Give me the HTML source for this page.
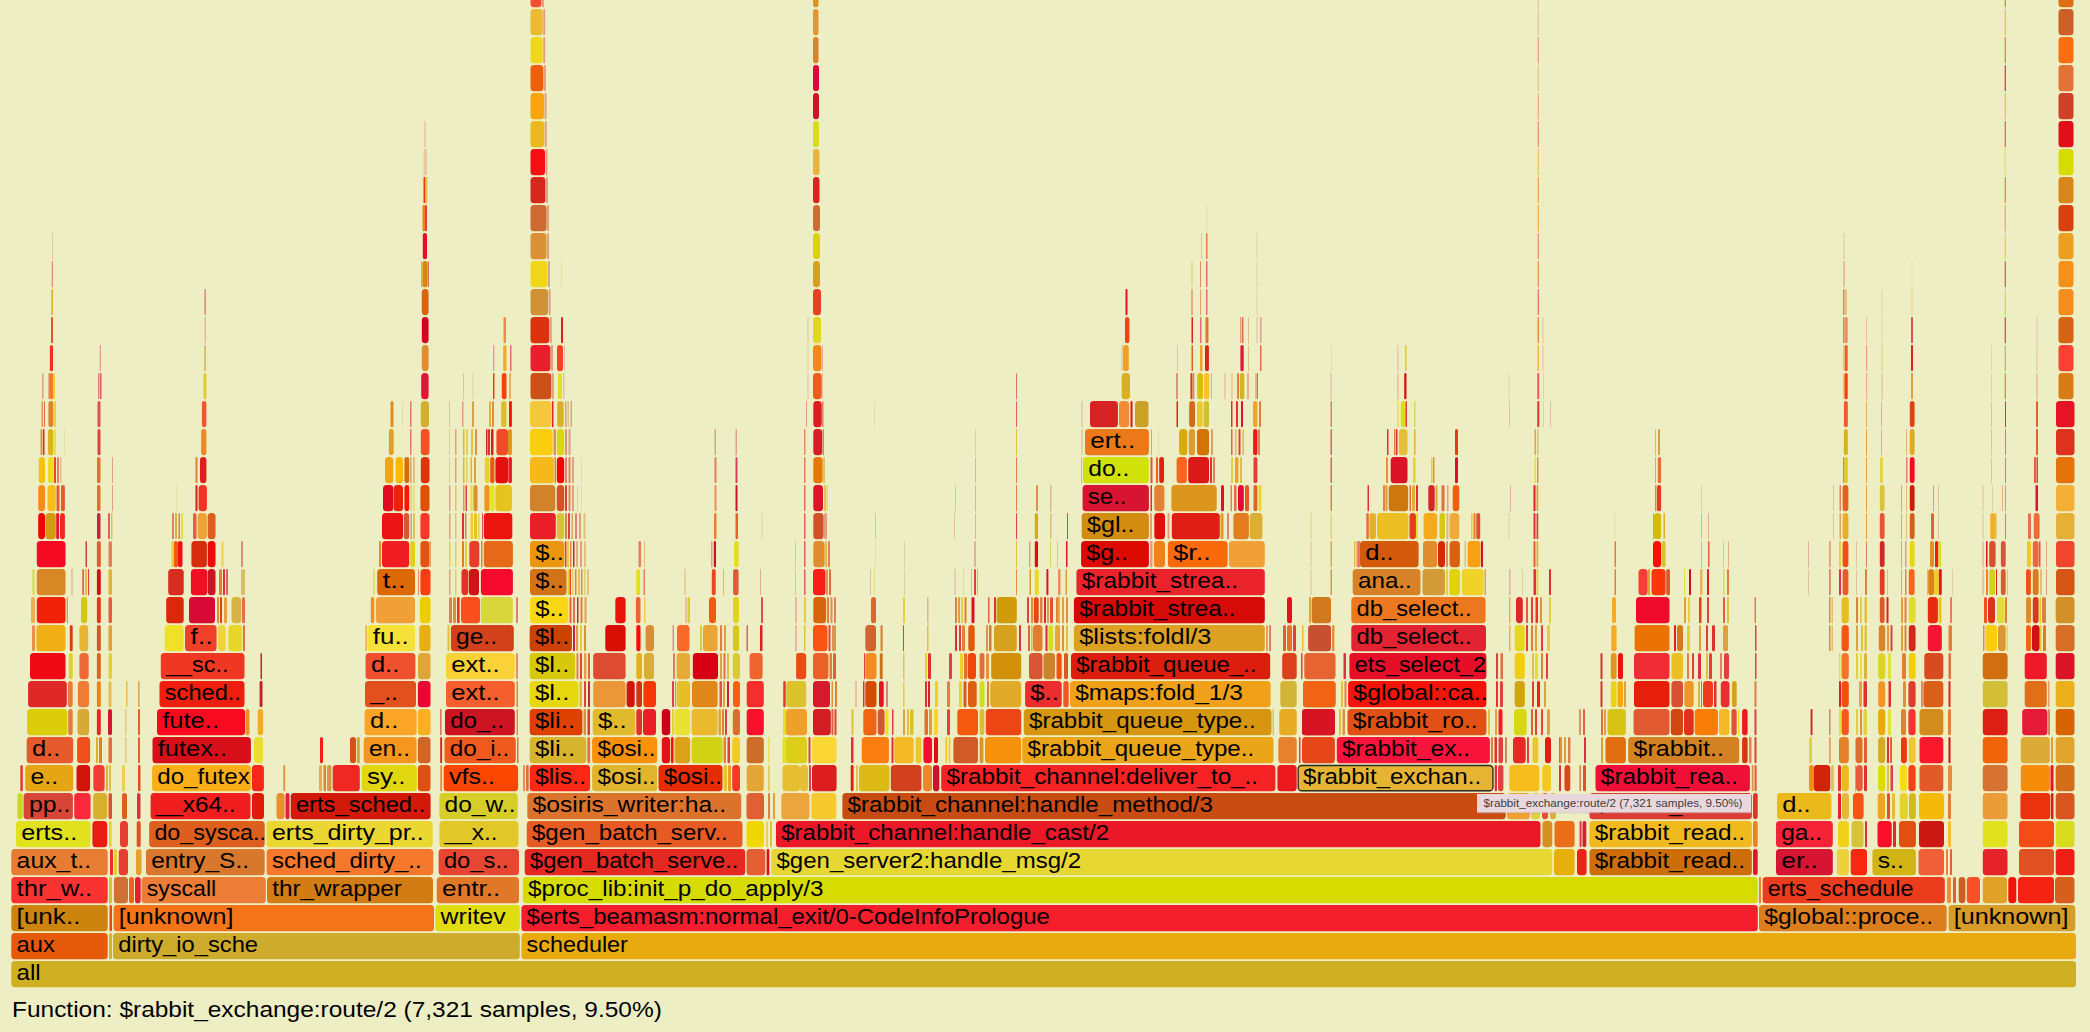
<!DOCTYPE html>
<html><head><meta charset="utf-8"><style>
html,body{margin:0;padding:0;background:#edeec3;width:2090px;height:1032px;overflow:hidden}
svg{display:block}
</style></head><body>
<svg width="2090" height="1032">
<rect width="2090" height="1032" fill="#edeec3"/>
<rect x="11.3" y="961" width="2064.7" height="26.25" rx="3.5" fill="#cfb022"/><rect x="11.3" y="933" width="96.4" height="26.25" rx="3.5" fill="#e55a0a"/><rect x="109.0" y="933" width="3.0" height="26.25" rx="1.5" fill="#d8b030"/><rect x="113.0" y="933" width="406.8" height="26.25" rx="3.5" fill="#ceaa2d"/><rect x="521.4" y="933" width="1554.6" height="26.25" rx="3.5" fill="#e8aa0f"/><rect x="11.3" y="905" width="96.4" height="26.25" rx="3.5" fill="#cd840f"/><rect x="109.5" y="905" width="2.5" height="26.25" rx="1.2" fill="#e04a20"/><rect x="113.6" y="905" width="320.4" height="26.25" rx="3.5" fill="#f57419"/><rect x="435.4" y="905" width="84.4" height="26.25" rx="3.5" fill="#e1dc0f"/><rect x="521.4" y="905" width="1236.4" height="26.25" rx="3.5" fill="#f51e2d"/><rect x="1759.0" y="905" width="187.7" height="26.25" rx="3.5" fill="#dc7d1e"/><rect x="1948.5" y="905" width="126.8" height="26.25" rx="3.5" fill="#d79b28"/><rect x="11.3" y="877" width="96.4" height="26.25" rx="3.5" fill="#fa3232"/><rect x="109.0" y="877" width="3.0" height="26.25" rx="1.5" fill="#d8c030"/><rect x="113.9" y="877" width="14.1" height="26.25" rx="3.5" fill="#cf7035"/><rect x="129.0" y="877" width="5.0" height="26.25" rx="2.5" fill="#f06020"/><rect x="135.0" y="877" width="5.7" height="26.25" rx="2.8" fill="#e02030"/><rect x="141.5" y="877" width="124.3" height="26.25" rx="3.5" fill="#eb7d37"/><rect x="267.0" y="877" width="166.0" height="26.25" rx="3.5" fill="#d27d14"/><rect x="436.8" y="877" width="82.2" height="26.25" rx="3.5" fill="#e17828"/><rect x="522.8" y="877" width="1235.0" height="26.25" rx="3.5" fill="#d7dc00"/><rect x="1759.0" y="877" width="2.0" height="26.25" rx="1.0" fill="#f08020"/><rect x="1762.6" y="877" width="182.2" height="26.25" rx="3.5" fill="#eb3c1e"/><rect x="1947.0" y="877" width="4.0" height="26.25" rx="2.0" fill="#e89040"/><rect x="1953.0" y="877" width="3.0" height="26.25" rx="1.5" fill="#e06030"/><rect x="1958.7" y="877" width="6.7" height="26.25" rx="3.4" fill="#cd5f1e"/><rect x="1966.8" y="877" width="13.2" height="26.25" rx="3.5" fill="#fa5028"/><rect x="1982.8" y="877" width="24.2" height="26.25" rx="3.5" fill="#e1a028"/><rect x="2008.3" y="877" width="8.0" height="26.25" rx="3.5" fill="#f0140a"/><rect x="2018.0" y="877" width="36.0" height="26.25" rx="3.5" fill="#f52314"/><rect x="2055.0" y="877" width="19.5" height="26.25" rx="3.5" fill="#d75f1e"/><rect x="11.3" y="849" width="96.4" height="26.25" rx="3.5" fill="#e67d32"/><rect x="110.0" y="849" width="3.0" height="26.25" rx="1.5" fill="#f03030"/><rect x="114.0" y="849" width="3.0" height="26.25" rx="1.5" fill="#e0d030"/><rect x="118.7" y="849" width="9.3" height="26.25" rx="3.5" fill="#e84030"/><rect x="136.0" y="849" width="5.5" height="26.25" rx="2.8" fill="#e8a030"/><rect x="146.0" y="849" width="118.7" height="26.25" rx="3.5" fill="#d7782d"/><rect x="266.6" y="849" width="166.7" height="26.25" rx="3.5" fill="#f5782d"/><rect x="438.6" y="849" width="80.4" height="26.25" rx="3.5" fill="#e64632"/><rect x="524.7" y="849" width="220.5" height="26.25" rx="3.5" fill="#e62823"/><rect x="746.5" y="849" width="18.8" height="26.25" rx="3.5" fill="#e15f32"/><rect x="766.6" y="849" width="2.7" height="26.25" rx="1.3" fill="#e01010"/><rect x="771.2" y="849" width="781.1" height="26.25" rx="3.5" fill="#e6d732"/><rect x="1554.0" y="849" width="20.6" height="26.25" rx="3.5" fill="#e6af0a"/><rect x="1577.0" y="849" width="9.6" height="26.25" rx="3.5" fill="#eb2314"/><rect x="1589.5" y="849" width="162.4" height="26.25" rx="3.5" fill="#cd6e0a"/><rect x="1753.0" y="849" width="4.7" height="26.25" rx="2.4" fill="#e61428"/><rect x="1776.0" y="849" width="56.8" height="26.25" rx="3.5" fill="#d71432"/><rect x="1836.8" y="849" width="12.1" height="26.25" rx="3.5" fill="#ebd23c"/><rect x="1850.7" y="849" width="16.3" height="26.25" rx="3.5" fill="#fa280f"/><rect x="1872.4" y="849" width="43.5" height="26.25" rx="3.5" fill="#d2b414"/><rect x="1918.5" y="849" width="25.5" height="26.25" rx="3.5" fill="#f05f37"/><rect x="1946.0" y="849" width="2.0" height="26.25" rx="1.0" fill="#f08040"/><rect x="1950.0" y="849" width="2.0" height="26.25" rx="1.0" fill="#e06040"/><rect x="1982.8" y="849" width="24.7" height="26.25" rx="3.5" fill="#e62328"/><rect x="2019.0" y="849" width="35.0" height="26.25" rx="3.5" fill="#e15023"/><rect x="2055.7" y="849" width="18.8" height="26.25" rx="3.5" fill="#f01e14"/><rect x="16.0" y="821" width="74.6" height="26.25" rx="3.5" fill="#e1e11e"/><rect x="92.4" y="821" width="14.8" height="26.25" rx="3.5" fill="#e81c10"/><rect x="109.0" y="821" width="2.5" height="26.25" rx="1.2" fill="#e0d030"/><rect x="120.0" y="821" width="8.0" height="26.25" rx="3.5" fill="#e84030"/><rect x="136.7" y="821" width="4.0" height="26.25" rx="2.0" fill="#e05020"/><rect x="149.2" y="821" width="115.5" height="26.25" rx="3.5" fill="#dc5f1e"/><rect x="266.6" y="821" width="166.1" height="26.25" rx="3.5" fill="#ebd732"/><rect x="439.4" y="821" width="79.1" height="26.25" rx="3.5" fill="#e1c828"/><rect x="526.8" y="821" width="215.7" height="26.25" rx="3.5" fill="#e65a23"/><rect x="746.5" y="821" width="17.5" height="26.25" rx="3.5" fill="#f0d700"/><rect x="766.0" y="821" width="2.0" height="26.25" rx="1.0" fill="#e8d060"/><rect x="770.0" y="821" width="2.0" height="26.25" rx="1.0" fill="#e0c040"/><rect x="776.0" y="821" width="764.5" height="26.25" rx="3.5" fill="#eb1928"/><rect x="1542.4" y="821" width="9.9" height="26.25" rx="3.5" fill="#d79123"/><rect x="1554.5" y="821" width="20.1" height="26.25" rx="3.5" fill="#eb6e19"/><rect x="1579.6" y="821" width="1.9" height="26.25" rx="1.0" fill="#e03040"/><rect x="1582.5" y="821" width="3.8" height="26.25" rx="1.9" fill="#d82030"/><rect x="1589.5" y="821" width="162.4" height="26.25" rx="3.5" fill="#f0b91e"/><rect x="1753.0" y="821" width="4.7" height="26.25" rx="2.4" fill="#f08020"/><rect x="1776.0" y="821" width="56.8" height="26.25" rx="3.5" fill="#f52337"/><rect x="1838.0" y="821" width="10.9" height="26.25" rx="3.5" fill="#f0d219"/><rect x="1851.5" y="821" width="12.1" height="26.25" rx="3.5" fill="#d7c337"/><rect x="1865.0" y="821" width="2.0" height="26.25" rx="1.0" fill="#e03030"/><rect x="1877.5" y="821" width="14.2" height="26.25" rx="3.5" fill="#fa0f28"/><rect x="1893.0" y="821" width="3.0" height="26.25" rx="1.5" fill="#d03030"/><rect x="1899.0" y="821" width="16.9" height="26.25" rx="3.5" fill="#e1500f"/><rect x="1919.0" y="821" width="25.0" height="26.25" rx="3.5" fill="#cd1914"/><rect x="1948.0" y="821" width="3.0" height="26.25" rx="1.5" fill="#f0c030"/><rect x="1982.8" y="821" width="24.7" height="26.25" rx="3.5" fill="#e1e11e"/><rect x="2019.0" y="821" width="35.0" height="26.25" rx="3.5" fill="#f54b14"/><rect x="2055.7" y="821" width="18.8" height="26.25" rx="3.5" fill="#d7dc1e"/><rect x="17.4" y="793" width="5.4" height="26.25" rx="2.7" fill="#c8d820"/><rect x="23.6" y="793" width="49.3" height="26.25" rx="3.5" fill="#d74637"/><rect x="74.2" y="793" width="16.4" height="26.25" rx="3.5" fill="#fa2a3a"/><rect x="93.2" y="793" width="14.0" height="26.25" rx="3.5" fill="#d8b030"/><rect x="108.5" y="793" width="3.5" height="26.25" rx="1.8" fill="#e05030"/><rect x="122.0" y="793" width="5.0" height="26.25" rx="2.5" fill="#d86020"/><rect x="137.0" y="793" width="3.5" height="26.25" rx="1.8" fill="#e03040"/><rect x="150.6" y="793" width="99.9" height="26.25" rx="3.5" fill="#f01e1e"/><rect x="251.9" y="793" width="12.1" height="26.25" rx="3.5" fill="#e01a0a"/><rect x="276.5" y="793" width="8.1" height="26.25" rx="3.5" fill="#e89030"/><rect x="285.5" y="793" width="4.0" height="26.25" rx="2.0" fill="#e02040"/><rect x="290.7" y="793" width="139.9" height="26.25" rx="3.5" fill="#d2190a"/><rect x="439.4" y="793" width="78.3" height="26.25" rx="3.5" fill="#d7cd28"/><rect x="527.3" y="793" width="213.9" height="26.25" rx="3.5" fill="#dc732d"/><rect x="746.5" y="793" width="17.5" height="26.25" rx="3.5" fill="#e15f32"/><rect x="768.0" y="793" width="2.0" height="26.25" rx="1.0" fill="#e08040"/><rect x="773.0" y="793" width="2.0" height="26.25" rx="1.0" fill="#e0a040"/><rect x="781.4" y="793" width="28.1" height="26.25" rx="3.5" fill="#eba53c"/><rect x="811.4" y="793" width="24.9" height="26.25" rx="3.5" fill="#f5c82d"/><rect x="842.4" y="793" width="663.3" height="26.25" rx="3.5" fill="#c84b14"/><rect x="1507.0" y="793" width="23.0" height="26.25" rx="3.5" fill="#f0a030"/><rect x="1531.0" y="793" width="9.0" height="26.25" rx="3.5" fill="#e0d040"/><rect x="1542.0" y="793" width="6.0" height="26.25" rx="3.0" fill="#e05030"/><rect x="1550.0" y="793" width="6.0" height="26.25" rx="3.0" fill="#d8b040"/><rect x="1589.5" y="793" width="162.4" height="26.25" rx="3.5" fill="#dc3c32"/><rect x="1753.0" y="793" width="4.7" height="26.25" rx="2.4" fill="#e03030"/><rect x="1777.0" y="793" width="54.4" height="26.25" rx="3.5" fill="#ebb919"/><rect x="1838.0" y="793" width="3.0" height="26.25" rx="1.5" fill="#e82030"/><rect x="1842.0" y="793" width="7.0" height="26.25" rx="3.5" fill="#e1b937"/><rect x="1853.0" y="793" width="10.6" height="26.25" rx="3.5" fill="#f55514"/><rect x="1877.8" y="793" width="7.2" height="26.25" rx="3.5" fill="#f0a51e"/><rect x="1887.0" y="793" width="3.0" height="26.25" rx="1.5" fill="#e05030"/><rect x="1892.0" y="793" width="3.0" height="26.25" rx="1.5" fill="#e0c030"/><rect x="1899.8" y="793" width="8.0" height="26.25" rx="3.5" fill="#e6d228"/><rect x="1909.0" y="793" width="6.9" height="26.25" rx="3.5" fill="#d2b91e"/><rect x="1919.0" y="793" width="25.0" height="26.25" rx="3.5" fill="#f5b90a"/><rect x="1948.0" y="793" width="3.0" height="26.25" rx="1.5" fill="#e08040"/><rect x="1982.8" y="793" width="24.7" height="26.25" rx="3.5" fill="#eb9b37"/><rect x="2020.4" y="793" width="30.0" height="26.25" rx="3.5" fill="#eb320f"/><rect x="2051.0" y="793" width="2.5" height="26.25" rx="1.2" fill="#d02020"/><rect x="2055.7" y="793" width="18.8" height="26.25" rx="3.5" fill="#d7551e"/><rect x="20.3" y="765" width="2.6" height="26.25" rx="1.3" fill="#e84030"/><rect x="25.2" y="765" width="48.0" height="26.25" rx="3.5" fill="#e6a514"/><rect x="76.5" y="765" width="13.6" height="26.25" rx="3.5" fill="#d2140a"/><rect x="93.4" y="765" width="11.2" height="26.25" rx="3.5" fill="#f03c32"/><rect x="106.0" y="765" width="2.0" height="26.25" rx="1.0" fill="#e0b040"/><rect x="109.0" y="765" width="2.0" height="26.25" rx="1.0" fill="#d8c040"/><rect x="122.0" y="765" width="3.0" height="26.25" rx="1.5" fill="#e8d050"/><rect x="138.0" y="765" width="2.5" height="26.25" rx="1.2" fill="#e05020"/><rect x="152.1" y="765" width="98.8" height="26.25" rx="3.5" fill="#faaf19"/><rect x="251.9" y="765" width="12.0" height="26.25" rx="3.5" fill="#f52819"/><rect x="26.7" y="737" width="46.5" height="26.25" rx="3.5" fill="#e65a2d"/><rect x="77.1" y="737" width="13.0" height="26.25" rx="3.5" fill="#f0501e"/><rect x="96.0" y="737" width="2.0" height="26.25" rx="1.0" fill="#e0b020"/><rect x="99.0" y="737" width="3.0" height="26.25" rx="1.5" fill="#e08020"/><rect x="108.5" y="737" width="3.5" height="26.25" rx="1.8" fill="#e07040"/><rect x="125.0" y="737" width="1.5" height="26.25" rx="0.8" fill="#e0d060"/><rect x="138.0" y="737" width="2.0" height="26.25" rx="1.0" fill="#e06030"/><rect x="152.5" y="737" width="98.4" height="26.25" rx="3.5" fill="#d70f19"/><rect x="253.8" y="737" width="9.3" height="26.25" rx="3.5" fill="#ebdc32"/><rect x="27.1" y="709" width="40.3" height="26.25" rx="3.5" fill="#dccd0a"/><rect x="68.2" y="709" width="4.5" height="26.25" rx="2.2" fill="#e08040"/><rect x="77.5" y="709" width="11.6" height="26.25" rx="3.5" fill="#d7aa37"/><rect x="96.9" y="709" width="3.9" height="26.25" rx="1.9" fill="#f02020"/><rect x="108.0" y="709" width="4.0" height="26.25" rx="2.0" fill="#d01830"/><rect x="125.0" y="709" width="1.5" height="26.25" rx="0.8" fill="#e0d060"/><rect x="138.0" y="709" width="2.0" height="26.25" rx="1.0" fill="#e06030"/><rect x="157.0" y="709" width="88.1" height="26.25" rx="3.5" fill="#fa0a1e"/><rect x="245.6" y="709" width="3.9" height="26.25" rx="2.0" fill="#e19628"/><rect x="257.7" y="709" width="5.4" height="26.25" rx="2.7" fill="#f0aa28"/><rect x="28.1" y="681" width="38.7" height="26.25" rx="3.5" fill="#e12828"/><rect x="67.8" y="681" width="4.9" height="26.25" rx="2.5" fill="#e67d37"/><rect x="77.9" y="681" width="11.2" height="26.25" rx="3.5" fill="#eb7d37"/><rect x="96.9" y="681" width="3.9" height="26.25" rx="1.9" fill="#f08214"/><rect x="108.5" y="681" width="3.0" height="26.25" rx="1.5" fill="#e0c050"/><rect x="126.0" y="681" width="1.5" height="26.25" rx="0.8" fill="#e0c060"/><rect x="138.0" y="681" width="1.5" height="26.25" rx="0.8" fill="#e0a040"/><rect x="159.5" y="681" width="85.0" height="26.25" rx="3.5" fill="#f01e0f"/><rect x="259.6" y="681" width="2.9" height="26.25" rx="1.4" fill="#c81e28"/><rect x="30.0" y="653" width="35.5" height="26.25" rx="3.5" fill="#f00a14"/><rect x="68.8" y="653" width="3.9" height="26.25" rx="2.0" fill="#dcd228"/><rect x="79.4" y="653" width="9.3" height="26.25" rx="3.5" fill="#f06937"/><rect x="96.9" y="653" width="3.9" height="26.25" rx="1.9" fill="#dc641e"/><rect x="108.5" y="653" width="3.5" height="26.25" rx="1.8" fill="#e0d040"/><rect x="160.8" y="653" width="83.7" height="26.25" rx="3.5" fill="#f03723"/><rect x="260.5" y="653" width="1.5" height="26.25" rx="0.8" fill="#d02020"/><rect x="32.0" y="625" width="3.0" height="26.25" rx="1.5" fill="#e89050"/><rect x="36.4" y="625" width="29.1" height="26.25" rx="3.5" fill="#f0af14"/><rect x="69.8" y="625" width="2.9" height="26.25" rx="1.5" fill="#dc3c14"/><rect x="79.4" y="625" width="8.8" height="26.25" rx="3.5" fill="#e6b432"/><rect x="96.9" y="625" width="3.9" height="26.25" rx="1.9" fill="#d25a1e"/><rect x="108.5" y="625" width="3.5" height="26.25" rx="1.8" fill="#e0a040"/><rect x="164.7" y="625" width="19.0" height="26.25" rx="3.5" fill="#f0e128"/><rect x="185.0" y="625" width="31.6" height="26.25" rx="3.5" fill="#f04128"/><rect x="218.0" y="625" width="7.7" height="26.25" rx="3.5" fill="#f0d23c"/><rect x="228.3" y="625" width="13.9" height="26.25" rx="3.5" fill="#e6d728"/><rect x="243.0" y="625" width="2.0" height="26.25" rx="1.0" fill="#e07050"/><rect x="31.0" y="597" width="4.0" height="26.25" rx="2.0" fill="#e8b050"/><rect x="36.8" y="597" width="28.7" height="26.25" rx="3.5" fill="#f0230a"/><rect x="66.8" y="597" width="1.0" height="26.25" rx="0.5" fill="#e08040"/><rect x="81.0" y="597" width="6.2" height="26.25" rx="3.1" fill="#d2c814"/><rect x="96.9" y="597" width="3.9" height="26.25" rx="1.9" fill="#f03214"/><rect x="108.5" y="597" width="3.5" height="26.25" rx="1.8" fill="#e06040"/><rect x="166.2" y="597" width="17.5" height="26.25" rx="3.5" fill="#dc280a"/><rect x="189.0" y="597" width="26.0" height="26.25" rx="3.5" fill="#d70a37"/><rect x="217.0" y="597" width="2.0" height="26.25" rx="1.0" fill="#e09030"/><rect x="220.0" y="597" width="2.0" height="26.25" rx="1.0" fill="#e04020"/><rect x="224.0" y="597" width="3.0" height="26.25" rx="1.5" fill="#e8a040"/><rect x="231.5" y="597" width="9.7" height="26.25" rx="3.5" fill="#d7b441"/><rect x="242.0" y="597" width="3.0" height="26.25" rx="1.5" fill="#e07050"/><rect x="283.3" y="765" width="1.9" height="26.25" rx="0.9" fill="#e89040"/><rect x="319.0" y="765" width="3.0" height="26.25" rx="1.5" fill="#e0b040"/><rect x="323.5" y="765" width="2.5" height="26.25" rx="1.2" fill="#e08040"/><rect x="327.0" y="765" width="4.5" height="26.25" rx="2.2" fill="#d89840"/><rect x="332.7" y="765" width="27.1" height="26.25" rx="3.5" fill="#f02823"/><rect x="361.7" y="765" width="55.2" height="26.25" rx="3.5" fill="#e1d70f"/><rect x="417.9" y="765" width="12.6" height="26.25" rx="3.5" fill="#dc5014"/><rect x="440.2" y="765" width="1.9" height="26.25" rx="1.0" fill="#e89040"/><rect x="443.7" y="765" width="74.4" height="26.25" rx="3.5" fill="#fa4600"/><rect x="320.0" y="737" width="3.0" height="26.25" rx="1.5" fill="#f01e14"/><rect x="350.0" y="737" width="6.0" height="26.25" rx="3.0" fill="#d75014"/><rect x="356.9" y="737" width="2.9" height="26.25" rx="1.5" fill="#d8a030"/><rect x="363.7" y="737" width="52.9" height="26.25" rx="3.5" fill="#f5961e"/><rect x="417.9" y="737" width="12.6" height="26.25" rx="3.5" fill="#d26428"/><rect x="440.2" y="737" width="1.9" height="26.25" rx="1.0" fill="#e02020"/><rect x="444.5" y="737" width="71.3" height="26.25" rx="3.5" fill="#f05a1e"/><rect x="517.0" y="737" width="1.5" height="26.25" rx="0.8" fill="#e07050"/><rect x="364.6" y="709" width="52.0" height="26.25" rx="3.5" fill="#faa528"/><rect x="417.9" y="709" width="12.6" height="26.25" rx="3.5" fill="#faaf23"/><rect x="440.2" y="709" width="1.3" height="26.25" rx="0.7" fill="#e05050"/><rect x="445.0" y="709" width="69.8" height="26.25" rx="3.5" fill="#cd1423"/><rect x="516.5" y="709" width="1.5" height="26.25" rx="0.8" fill="#e08060"/><rect x="365.0" y="681" width="51.0" height="26.25" rx="3.5" fill="#e1501e"/><rect x="417.9" y="681" width="12.6" height="26.25" rx="3.5" fill="#eb0532"/><rect x="446.0" y="681" width="68.8" height="26.25" rx="3.5" fill="#f55f2d"/><rect x="516.5" y="681" width="1.5" height="26.25" rx="0.8" fill="#e08040"/><rect x="365.6" y="653" width="49.8" height="26.25" rx="3.5" fill="#f0502d"/><rect x="418.0" y="653" width="12.5" height="26.25" rx="3.5" fill="#e1a537"/><rect x="446.0" y="653" width="68.8" height="26.25" rx="3.5" fill="#fad237"/><rect x="516.0" y="653" width="2.0" height="26.25" rx="1.0" fill="#e09070"/><rect x="365.5" y="625" width="1.3" height="26.25" rx="0.7" fill="#e0a030"/><rect x="367.5" y="625" width="47.5" height="26.25" rx="3.5" fill="#f5e137"/><rect x="419.3" y="625" width="11.2" height="26.25" rx="3.5" fill="#e6af14"/><rect x="447.5" y="625" width="2.0" height="26.25" rx="1.0" fill="#e0c030"/><rect x="450.9" y="625" width="62.9" height="26.25" rx="3.5" fill="#d24119"/><rect x="370.8" y="597" width="3.5" height="26.25" rx="1.8" fill="#f09020"/><rect x="375.9" y="597" width="39.1" height="26.25" rx="3.5" fill="#f0a037"/><rect x="419.9" y="597" width="10.6" height="26.25" rx="3.5" fill="#ebcd00"/><rect x="449.0" y="597" width="3.0" height="26.25" rx="1.5" fill="#e08050"/><rect x="453.0" y="597" width="3.0" height="26.25" rx="1.5" fill="#d89040"/><rect x="457.0" y="597" width="2.6" height="26.25" rx="1.3" fill="#f03010"/><rect x="461.0" y="597" width="19.0" height="26.25" rx="3.5" fill="#fa501e"/><rect x="480.9" y="597" width="32.0" height="26.25" rx="3.5" fill="#d7d73c"/><rect x="516.0" y="597" width="2.0" height="26.25" rx="1.0" fill="#e08070"/><rect x="523.0" y="765" width="2.0" height="26.25" rx="1.0" fill="#e89050"/><rect x="526.0" y="765" width="2.7" height="26.25" rx="1.4" fill="#e07040"/><rect x="529.7" y="765" width="60.4" height="26.25" rx="3.5" fill="#fa2814"/><rect x="592.1" y="765" width="65.1" height="26.25" rx="3.5" fill="#e1b42d"/><rect x="658.5" y="765" width="64.0" height="26.25" rx="3.5" fill="#e62d00"/><rect x="723.5" y="765" width="3.5" height="26.25" rx="1.8" fill="#e8c030"/><rect x="728.0" y="765" width="3.0" height="26.25" rx="1.5" fill="#e8a020"/><rect x="732.2" y="765" width="7.8" height="26.25" rx="3.5" fill="#f53723"/><rect x="746.7" y="765" width="17.1" height="26.25" rx="3.5" fill="#e6a537"/><rect x="768.0" y="765" width="2.0" height="26.25" rx="1.0" fill="#e0d060"/><rect x="782.5" y="765" width="17.5" height="26.25" rx="3.5" fill="#e6be32"/><rect x="529.7" y="737" width="56.6" height="26.25" rx="3.5" fill="#d7b42d"/><rect x="587.4" y="737" width="2.7" height="26.25" rx="1.4" fill="#e87030"/><rect x="592.1" y="737" width="65.1" height="26.25" rx="3.5" fill="#fa910a"/><rect x="661.8" y="737" width="8.4" height="26.25" rx="3.5" fill="#e60f19"/><rect x="671.0" y="737" width="2.5" height="26.25" rx="1.2" fill="#f01010"/><rect x="674.6" y="737" width="15.5" height="26.25" rx="3.5" fill="#dca019"/><rect x="691.5" y="737" width="31.0" height="26.25" rx="3.5" fill="#d2d214"/><rect x="723.5" y="737" width="2.5" height="26.25" rx="1.2" fill="#e08040"/><rect x="727.5" y="737" width="2.5" height="26.25" rx="1.2" fill="#e04040"/><rect x="732.2" y="737" width="7.8" height="26.25" rx="3.5" fill="#fac823"/><rect x="746.7" y="737" width="17.1" height="26.25" rx="3.5" fill="#cd6e28"/><rect x="768.0" y="737" width="1.5" height="26.25" rx="0.8" fill="#e8e060"/><rect x="782.5" y="737" width="3.0" height="26.25" rx="1.5" fill="#e8e020"/><rect x="786.4" y="737" width="13.6" height="26.25" rx="3.5" fill="#d7d71e"/><rect x="529.7" y="709" width="52.7" height="26.25" rx="3.5" fill="#dc4100"/><rect x="583.5" y="709" width="2.5" height="26.25" rx="1.2" fill="#d89030"/><rect x="587.5" y="709" width="2.5" height="26.25" rx="1.2" fill="#d04030"/><rect x="592.7" y="709" width="42.6" height="26.25" rx="3.5" fill="#e1b92d"/><rect x="636.3" y="709" width="5.7" height="26.25" rx="2.9" fill="#e13228"/><rect x="643.0" y="709" width="13.0" height="26.25" rx="3.5" fill="#eb1e28"/><rect x="661.8" y="709" width="8.4" height="26.25" rx="3.5" fill="#cd0019"/><rect x="672.0" y="709" width="2.0" height="26.25" rx="1.0" fill="#e8d030"/><rect x="674.6" y="709" width="15.5" height="26.25" rx="3.5" fill="#e6e132"/><rect x="691.5" y="709" width="26.1" height="26.25" rx="3.5" fill="#ebb92d"/><rect x="718.5" y="709" width="2.5" height="26.25" rx="1.2" fill="#e0a040"/><rect x="722.0" y="709" width="2.0" height="26.25" rx="1.0" fill="#e08040"/><rect x="725.0" y="709" width="2.0" height="26.25" rx="1.0" fill="#e04040"/><rect x="732.8" y="709" width="7.2" height="26.25" rx="3.5" fill="#dc6e2d"/><rect x="746.7" y="709" width="17.1" height="26.25" rx="3.5" fill="#fa0f2d"/><rect x="783.5" y="709" width="2.0" height="26.25" rx="1.0" fill="#f0d020"/><rect x="786.4" y="709" width="13.6" height="26.25" rx="3.5" fill="#f0a032"/><rect x="529.7" y="681" width="48.8" height="26.25" rx="3.5" fill="#e6d70f"/><rect x="579.5" y="681" width="2.5" height="26.25" rx="1.2" fill="#e0b040"/><rect x="584.0" y="681" width="2.0" height="26.25" rx="1.0" fill="#e04040"/><rect x="588.0" y="681" width="2.0" height="26.25" rx="1.0" fill="#d02030"/><rect x="593.2" y="681" width="32.4" height="26.25" rx="3.5" fill="#eb9637"/><rect x="626.6" y="681" width="8.1" height="26.25" rx="3.5" fill="#d2140f"/><rect x="636.3" y="681" width="5.7" height="26.25" rx="2.9" fill="#d23214"/><rect x="643.4" y="681" width="12.6" height="26.25" rx="3.5" fill="#fa370a"/><rect x="672.0" y="681" width="2.0" height="26.25" rx="1.0" fill="#e04040"/><rect x="675.0" y="681" width="1.0" height="26.25" rx="0.5" fill="#e08060"/><rect x="676.6" y="681" width="13.5" height="26.25" rx="3.5" fill="#e6be28"/><rect x="692.0" y="681" width="25.6" height="26.25" rx="3.5" fill="#e18719"/><rect x="719.5" y="681" width="2.5" height="26.25" rx="1.2" fill="#e05040"/><rect x="723.0" y="681" width="2.0" height="26.25" rx="1.0" fill="#e0a050"/><rect x="727.0" y="681" width="2.0" height="26.25" rx="1.0" fill="#d02030"/><rect x="733.0" y="681" width="7.0" height="26.25" rx="3.5" fill="#fa5f0f"/><rect x="746.7" y="681" width="17.1" height="26.25" rx="3.5" fill="#f52d2d"/><rect x="783.5" y="681" width="2.0" height="26.25" rx="1.0" fill="#d03020"/><rect x="786.4" y="681" width="13.6" height="26.25" rx="3.5" fill="#d7c32d"/><rect x="529.7" y="653" width="45.5" height="26.25" rx="3.5" fill="#d7c80a"/><rect x="576.5" y="653" width="2.0" height="26.25" rx="1.0" fill="#e08040"/><rect x="580.0" y="653" width="2.0" height="26.25" rx="1.0" fill="#e04040"/><rect x="584.0" y="653" width="2.5" height="26.25" rx="1.2" fill="#e0a040"/><rect x="588.0" y="653" width="2.0" height="26.25" rx="1.0" fill="#e06040"/><rect x="593.2" y="653" width="32.4" height="26.25" rx="3.5" fill="#dc4b32"/><rect x="636.3" y="653" width="5.7" height="26.25" rx="2.9" fill="#e6af14"/><rect x="644.0" y="653" width="10.0" height="26.25" rx="3.5" fill="#d7af37"/><rect x="673.0" y="653" width="2.0" height="26.25" rx="1.0" fill="#e08060"/><rect x="676.6" y="653" width="13.5" height="26.25" rx="3.5" fill="#e6aa37"/><rect x="692.8" y="653" width="25.2" height="26.25" rx="3.5" fill="#d70014"/><rect x="720.0" y="653" width="2.0" height="26.25" rx="1.0" fill="#e0a040"/><rect x="723.5" y="653" width="2.0" height="26.25" rx="1.0" fill="#e07040"/><rect x="727.0" y="653" width="2.0" height="26.25" rx="1.0" fill="#e0c040"/><rect x="732.8" y="653" width="7.2" height="26.25" rx="3.5" fill="#dcc832"/><rect x="749.6" y="653" width="13.0" height="26.25" rx="3.5" fill="#f0642d"/><rect x="796.0" y="653" width="4.0" height="26.25" rx="2.0" fill="#e87030"/><rect x="529.7" y="625" width="42.2" height="26.25" rx="3.5" fill="#cd4100"/><rect x="573.0" y="625" width="2.0" height="26.25" rx="1.0" fill="#c02050"/><rect x="576.0" y="625" width="2.0" height="26.25" rx="1.0" fill="#e0a040"/><rect x="580.0" y="625" width="2.0" height="26.25" rx="1.0" fill="#e0d040"/><rect x="584.0" y="625" width="2.0" height="26.25" rx="1.0" fill="#e09030"/><rect x="605.3" y="625" width="20.3" height="26.25" rx="3.5" fill="#d70f05"/><rect x="636.3" y="625" width="4.2" height="26.25" rx="2.1" fill="#fa0a0a"/><rect x="645.6" y="625" width="8.4" height="26.25" rx="3.5" fill="#dc8c37"/><rect x="672.5" y="625" width="1.5" height="26.25" rx="0.8" fill="#e09080"/><rect x="677.0" y="625" width="12.5" height="26.25" rx="3.5" fill="#fa6928"/><rect x="700.0" y="625" width="2.0" height="26.25" rx="1.0" fill="#d8d030"/><rect x="703.0" y="625" width="14.6" height="26.25" rx="3.5" fill="#eba532"/><rect x="720.0" y="625" width="2.0" height="26.25" rx="1.0" fill="#e08040"/><rect x="724.0" y="625" width="2.0" height="26.25" rx="1.0" fill="#e0a040"/><rect x="733.0" y="625" width="6.0" height="26.25" rx="3.0" fill="#d7c81e"/><rect x="746.5" y="625" width="1.5" height="26.25" rx="0.8" fill="#e06060"/><rect x="760.0" y="625" width="2.5" height="26.25" rx="1.2" fill="#e02020"/><rect x="530.0" y="597" width="38.4" height="26.25" rx="3.5" fill="#fad714"/><rect x="569.5" y="597" width="2.0" height="26.25" rx="1.0" fill="#e06040"/><rect x="573.0" y="597" width="2.0" height="26.25" rx="1.0" fill="#e07050"/><rect x="577.0" y="597" width="1.5" height="26.25" rx="0.8" fill="#d02030"/><rect x="580.5" y="597" width="2.0" height="26.25" rx="1.0" fill="#e08040"/><rect x="584.5" y="597" width="2.0" height="26.25" rx="1.0" fill="#e0a050"/><rect x="615.3" y="597" width="10.3" height="26.25" rx="3.5" fill="#eb140a"/><rect x="635.9" y="597" width="4.6" height="26.25" rx="2.3" fill="#eb6432"/><rect x="644.0" y="597" width="1.5" height="26.25" rx="0.8" fill="#e8d050"/><rect x="685.0" y="597" width="2.0" height="26.25" rx="1.0" fill="#e8c0a0"/><rect x="687.5" y="597" width="2.5" height="26.25" rx="1.2" fill="#d8d030"/><rect x="709.0" y="597" width="7.0" height="26.25" rx="3.5" fill="#f05a0f"/><rect x="733.0" y="597" width="6.0" height="26.25" rx="3.0" fill="#e1d21e"/><rect x="761.0" y="597" width="2.0" height="26.25" rx="1.0" fill="#e05050"/><rect x="800.0" y="765" width="8.0" height="26.25" rx="3.5" fill="#e6be37"/><rect x="809.0" y="765" width="2.0" height="26.25" rx="1.0" fill="#e04040"/><rect x="812.0" y="765" width="24.6" height="26.25" rx="3.5" fill="#dc1e1e"/><rect x="850.7" y="765" width="2.9" height="26.25" rx="1.4" fill="#e02010"/><rect x="856.0" y="765" width="2.0" height="26.25" rx="1.0" fill="#e8c040"/><rect x="859.0" y="765" width="30.5" height="26.25" rx="3.5" fill="#dcb914"/><rect x="890.8" y="765" width="30.6" height="26.25" rx="3.5" fill="#d2411e"/><rect x="923.0" y="765" width="9.0" height="26.25" rx="3.5" fill="#eb872d"/><rect x="933.0" y="765" width="6.3" height="26.25" rx="3.1" fill="#c8142d"/><rect x="941.2" y="765" width="334.2" height="26.25" rx="3.5" fill="#f52323"/><rect x="783.0" y="737" width="2.4" height="26.25" rx="1.2" fill="#e0e020"/><rect x="785.8" y="737" width="21.2" height="26.25" rx="3.5" fill="#dccd19"/><rect x="808.5" y="737" width="2.0" height="26.25" rx="1.0" fill="#e04040"/><rect x="812.0" y="737" width="24.6" height="26.25" rx="3.5" fill="#fad732"/><rect x="851.0" y="737" width="2.5" height="26.25" rx="1.2" fill="#e03040"/><rect x="861.8" y="737" width="27.1" height="26.25" rx="3.5" fill="#fa7d0f"/><rect x="891.5" y="737" width="2.0" height="26.25" rx="1.0" fill="#e03040"/><rect x="894.3" y="737" width="19.4" height="26.25" rx="3.5" fill="#f5b928"/><rect x="915.6" y="737" width="5.8" height="26.25" rx="2.9" fill="#e6c828"/><rect x="923.4" y="737" width="8.6" height="26.25" rx="3.5" fill="#f50f2d"/><rect x="934.0" y="737" width="4.0" height="26.25" rx="2.0" fill="#e10f14"/><rect x="945.5" y="737" width="1.5" height="26.25" rx="0.8" fill="#f0c020"/><rect x="948.5" y="737" width="2.0" height="26.25" rx="1.0" fill="#e8d040"/><rect x="953.4" y="737" width="24.6" height="26.25" rx="3.5" fill="#d25a28"/><rect x="979.6" y="737" width="3.8" height="26.25" rx="1.9" fill="#d79628"/><rect x="985.0" y="737" width="36.2" height="26.25" rx="3.5" fill="#f5910a"/><rect x="1022.2" y="737" width="251.3" height="26.25" rx="3.5" fill="#eba519"/><rect x="783.0" y="709" width="2.4" height="26.25" rx="1.2" fill="#e0e020"/><rect x="785.8" y="709" width="21.2" height="26.25" rx="3.5" fill="#f0a028"/><rect x="813.0" y="709" width="17.8" height="26.25" rx="3.5" fill="#d21e23"/><rect x="831.5" y="709" width="2.0" height="26.25" rx="1.0" fill="#e06040"/><rect x="834.5" y="709" width="2.0" height="26.25" rx="1.0" fill="#e04040"/><rect x="851.5" y="709" width="2.0" height="26.25" rx="1.0" fill="#e0c040"/><rect x="863.3" y="709" width="13.2" height="26.25" rx="3.5" fill="#f06414"/><rect x="877.8" y="709" width="6.8" height="26.25" rx="3.4" fill="#d75537"/><rect x="885.5" y="709" width="3.0" height="26.25" rx="1.5" fill="#f0e020"/><rect x="892.0" y="709" width="1.5" height="26.25" rx="0.8" fill="#e04040"/><rect x="903.0" y="709" width="2.0" height="26.25" rx="1.0" fill="#e0a040"/><rect x="907.0" y="709" width="2.0" height="26.25" rx="1.0" fill="#e0c040"/><rect x="910.0" y="709" width="3.5" height="26.25" rx="1.8" fill="#d8c030"/><rect x="924.5" y="709" width="3.5" height="26.25" rx="1.8" fill="#e07030"/><rect x="929.0" y="709" width="3.0" height="26.25" rx="1.5" fill="#d8a040"/><rect x="934.0" y="709" width="4.0" height="26.25" rx="2.0" fill="#fad228"/><rect x="947.0" y="709" width="3.0" height="26.25" rx="1.5" fill="#e04040"/><rect x="957.3" y="709" width="20.7" height="26.25" rx="3.5" fill="#f55a0f"/><rect x="979.6" y="709" width="4.8" height="26.25" rx="2.4" fill="#d7be3c"/><rect x="985.8" y="709" width="35.4" height="26.25" rx="3.5" fill="#eb4614"/><rect x="1023.8" y="709" width="247.7" height="26.25" rx="3.5" fill="#d7960f"/><rect x="783.5" y="681" width="2.0" height="26.25" rx="1.0" fill="#e04030"/><rect x="786.8" y="681" width="19.4" height="26.25" rx="3.5" fill="#dcc32d"/><rect x="813.0" y="681" width="17.0" height="26.25" rx="3.5" fill="#d7192d"/><rect x="831.5" y="681" width="1.5" height="26.25" rx="0.8" fill="#e09040"/><rect x="835.0" y="681" width="2.0" height="26.25" rx="1.0" fill="#e08030"/><rect x="855.5" y="681" width="1.0" height="26.25" rx="0.5" fill="#e09090"/><rect x="863.0" y="681" width="1.5" height="26.25" rx="0.8" fill="#e03040"/><rect x="865.3" y="681" width="11.2" height="26.25" rx="3.5" fill="#d74b00"/><rect x="879.0" y="681" width="4.7" height="26.25" rx="2.4" fill="#e6141e"/><rect x="886.0" y="681" width="2.0" height="26.25" rx="1.0" fill="#e08080"/><rect x="903.0" y="681" width="1.5" height="26.25" rx="0.8" fill="#e0d040"/><rect x="925.0" y="681" width="2.0" height="26.25" rx="1.0" fill="#e03030"/><rect x="928.0" y="681" width="2.0" height="26.25" rx="1.0" fill="#d82030"/><rect x="935.0" y="681" width="3.0" height="26.25" rx="1.5" fill="#f0d020"/><rect x="947.0" y="681" width="3.0" height="26.25" rx="1.5" fill="#e08040"/><rect x="959.0" y="681" width="3.0" height="26.25" rx="1.5" fill="#f0d020"/><rect x="963.5" y="681" width="3.0" height="26.25" rx="1.5" fill="#cd5f1e"/><rect x="968.0" y="681" width="8.7" height="26.25" rx="3.5" fill="#dc5f14"/><rect x="979.6" y="681" width="4.8" height="26.25" rx="2.4" fill="#d2dc19"/><rect x="987.0" y="681" width="2.0" height="26.25" rx="1.0" fill="#e08040"/><rect x="990.2" y="681" width="31.0" height="26.25" rx="3.5" fill="#e1aa28"/><rect x="1025.1" y="681" width="36.6" height="26.25" rx="3.5" fill="#eb2d2d"/><rect x="796.5" y="653" width="9.7" height="26.25" rx="3.5" fill="#eb4b14"/><rect x="813.0" y="653" width="15.4" height="26.25" rx="3.5" fill="#eb5f28"/><rect x="829.5" y="653" width="2.5" height="26.25" rx="1.2" fill="#e08040"/><rect x="833.0" y="653" width="3.0" height="26.25" rx="1.5" fill="#e06030"/><rect x="864.0" y="653" width="1.0" height="26.25" rx="0.5" fill="#e04040"/><rect x="865.3" y="653" width="11.2" height="26.25" rx="3.5" fill="#f58c23"/><rect x="879.8" y="653" width="2.9" height="26.25" rx="1.5" fill="#d26e14"/><rect x="903.0" y="653" width="1.5" height="26.25" rx="0.8" fill="#e0c060"/><rect x="925.0" y="653" width="2.0" height="26.25" rx="1.0" fill="#e0d030"/><rect x="928.0" y="653" width="3.0" height="26.25" rx="1.5" fill="#e03030"/><rect x="949.0" y="653" width="3.0" height="26.25" rx="1.5" fill="#e04040"/><rect x="960.0" y="653" width="3.0" height="26.25" rx="1.5" fill="#e8d030"/><rect x="964.0" y="653" width="3.0" height="26.25" rx="1.5" fill="#e07030"/><rect x="967.6" y="653" width="8.4" height="26.25" rx="3.5" fill="#f0460a"/><rect x="979.6" y="653" width="4.8" height="26.25" rx="2.4" fill="#e16e3c"/><rect x="986.0" y="653" width="3.0" height="26.25" rx="1.5" fill="#e89040"/><rect x="991.2" y="653" width="30.0" height="26.25" rx="3.5" fill="#d2910a"/><rect x="1029.0" y="653" width="13.5" height="26.25" rx="3.5" fill="#d75532"/><rect x="1043.5" y="653" width="11.5" height="26.25" rx="3.5" fill="#cd822d"/><rect x="1056.5" y="653" width="5.2" height="26.25" rx="2.6" fill="#f55014"/><rect x="1064.0" y="653" width="4.0" height="26.25" rx="2.0" fill="#d75a1e"/><rect x="1071.0" y="653" width="199.2" height="26.25" rx="3.5" fill="#dc1e0f"/><rect x="795.5" y="625" width="1.0" height="26.25" rx="0.5" fill="#e08080"/><rect x="804.0" y="625" width="1.5" height="26.25" rx="0.8" fill="#e0c040"/><rect x="813.0" y="625" width="14.5" height="26.25" rx="3.5" fill="#fa5514"/><rect x="828.5" y="625" width="2.0" height="26.25" rx="1.0" fill="#e04040"/><rect x="832.0" y="625" width="4.0" height="26.25" rx="2.0" fill="#e09050"/><rect x="865.3" y="625" width="10.7" height="26.25" rx="3.5" fill="#d26432"/><rect x="880.5" y="625" width="2.2" height="26.25" rx="1.1" fill="#e08030"/><rect x="903.0" y="625" width="1.0" height="26.25" rx="0.5" fill="#e04040"/><rect x="927.0" y="625" width="1.5" height="26.25" rx="0.8" fill="#e0c040"/><rect x="955.0" y="625" width="2.0" height="26.25" rx="1.0" fill="#e03040"/><rect x="959.0" y="625" width="2.0" height="26.25" rx="1.0" fill="#e04040"/><rect x="962.0" y="625" width="3.0" height="26.25" rx="1.5" fill="#e08040"/><rect x="968.3" y="625" width="6.4" height="26.25" rx="3.2" fill="#e15a0a"/><rect x="986.0" y="625" width="2.0" height="26.25" rx="1.0" fill="#e09050"/><rect x="989.0" y="625" width="2.5" height="26.25" rx="1.2" fill="#d08030"/><rect x="994.0" y="625" width="22.8" height="26.25" rx="3.5" fill="#d7a01e"/><rect x="1019.0" y="625" width="2.0" height="26.25" rx="1.0" fill="#e03040"/><rect x="1028.0" y="625" width="2.0" height="26.25" rx="1.0" fill="#e06040"/><rect x="1031.0" y="625" width="1.5" height="26.25" rx="0.8" fill="#e0c040"/><rect x="1032.9" y="625" width="9.6" height="26.25" rx="3.5" fill="#e17d32"/><rect x="1045.5" y="625" width="2.0" height="26.25" rx="1.0" fill="#e02040"/><rect x="1048.4" y="625" width="4.8" height="26.25" rx="2.4" fill="#d7dc1e"/><rect x="1055.0" y="625" width="5.0" height="26.25" rx="2.5" fill="#eba537"/><rect x="795.5" y="597" width="1.0" height="26.25" rx="0.5" fill="#e08080"/><rect x="804.0" y="597" width="2.0" height="26.25" rx="1.0" fill="#e0d040"/><rect x="813.3" y="597" width="12.8" height="26.25" rx="3.5" fill="#d7640a"/><rect x="827.0" y="597" width="2.0" height="26.25" rx="1.0" fill="#e08040"/><rect x="830.5" y="597" width="2.0" height="26.25" rx="1.0" fill="#e09050"/><rect x="834.0" y="597" width="2.0" height="26.25" rx="1.0" fill="#e08060"/><rect x="871.0" y="597" width="5.0" height="26.25" rx="2.5" fill="#e1642d"/><rect x="903.0" y="597" width="2.0" height="26.25" rx="1.0" fill="#e0d040"/><rect x="927.0" y="597" width="1.5" height="26.25" rx="0.8" fill="#e0b0a0"/><rect x="955.0" y="597" width="2.0" height="26.25" rx="1.0" fill="#e08040"/><rect x="958.0" y="597" width="2.0" height="26.25" rx="1.0" fill="#e0a040"/><rect x="961.0" y="597" width="2.0" height="26.25" rx="1.0" fill="#e0d040"/><rect x="964.5" y="597" width="2.0" height="26.25" rx="1.0" fill="#e08030"/><rect x="971.5" y="597" width="3.0" height="26.25" rx="1.5" fill="#d8102a"/><rect x="988.0" y="597" width="1.5" height="26.25" rx="0.8" fill="#e06040"/><rect x="994.0" y="597" width="2.0" height="26.25" rx="1.0" fill="#e03030"/><rect x="996.6" y="597" width="20.2" height="26.25" rx="3.5" fill="#d29b0a"/><rect x="1027.0" y="597" width="2.0" height="26.25" rx="1.0" fill="#e04040"/><rect x="1031.0" y="597" width="2.0" height="26.25" rx="1.0" fill="#e09040"/><rect x="1033.8" y="597" width="4.9" height="26.25" rx="2.5" fill="#e64614"/><rect x="1040.0" y="597" width="2.5" height="26.25" rx="1.2" fill="#e08040"/><rect x="1044.0" y="597" width="2.0" height="26.25" rx="1.0" fill="#e02040"/><rect x="1047.0" y="597" width="2.0" height="26.25" rx="1.0" fill="#e0a040"/><rect x="1050.0" y="597" width="3.0" height="26.25" rx="1.5" fill="#e05040"/><rect x="1056.0" y="597" width="4.0" height="26.25" rx="2.0" fill="#e88040"/><rect x="1277.4" y="765" width="19.3" height="26.25" rx="3.5" fill="#eb191e"/><rect x="1278.3" y="737" width="18.4" height="26.25" rx="3.5" fill="#e6822d"/><rect x="1299.0" y="737" width="1.5" height="26.25" rx="0.8" fill="#e04040"/><rect x="1272.5" y="709" width="1.5" height="26.25" rx="0.8" fill="#e0c060"/><rect x="1279.3" y="709" width="17.4" height="26.25" rx="3.5" fill="#e6aa23"/><rect x="1302.0" y="709" width="32.9" height="26.25" rx="3.5" fill="#d71423"/><rect x="1063.3" y="681" width="5.4" height="26.25" rx="2.7" fill="#f55528"/><rect x="1070.0" y="681" width="200.6" height="26.25" rx="3.5" fill="#f0a019"/><rect x="1280.3" y="681" width="16.4" height="26.25" rx="3.5" fill="#d2b437"/><rect x="1303.0" y="681" width="32.5" height="26.25" rx="3.5" fill="#f06414"/><rect x="1282.2" y="653" width="14.5" height="26.25" rx="3.5" fill="#dc411e"/><rect x="1301.0" y="653" width="1.5" height="26.25" rx="0.8" fill="#e04040"/><rect x="1304.3" y="653" width="31.2" height="26.25" rx="3.5" fill="#e66432"/><rect x="1062.0" y="625" width="2.0" height="26.25" rx="1.0" fill="#e09040"/><rect x="1066.0" y="625" width="2.0" height="26.25" rx="1.0" fill="#e0c040"/><rect x="1073.9" y="625" width="190.9" height="26.25" rx="3.5" fill="#dca023"/><rect x="1266.0" y="625" width="2.0" height="26.25" rx="1.0" fill="#e0a060"/><rect x="1269.0" y="625" width="2.0" height="26.25" rx="1.0" fill="#e08060"/><rect x="1283.0" y="625" width="3.0" height="26.25" rx="1.5" fill="#e06030"/><rect x="1287.0" y="625" width="5.0" height="26.25" rx="2.5" fill="#e87030"/><rect x="1293.0" y="625" width="3.0" height="26.25" rx="1.5" fill="#e04040"/><rect x="1302.0" y="625" width="1.5" height="26.25" rx="0.8" fill="#e0c040"/><rect x="1308.1" y="625" width="22.9" height="26.25" rx="3.5" fill="#c85032"/><rect x="1058.0" y="597" width="2.0" height="26.25" rx="1.0" fill="#e0b040"/><rect x="1062.0" y="597" width="2.0" height="26.25" rx="1.0" fill="#e0a040"/><rect x="1066.0" y="597" width="2.0" height="26.25" rx="1.0" fill="#e09040"/><rect x="1073.9" y="597" width="190.9" height="26.25" rx="3.5" fill="#d70a0a"/><rect x="1287.0" y="597" width="5.0" height="26.25" rx="2.5" fill="#e81020"/><rect x="1309.0" y="597" width="2.0" height="26.25" rx="1.0" fill="#e0b040"/><rect x="1311.6" y="597" width="19.4" height="26.25" rx="3.5" fill="#d2781e"/><rect x="1297.7" y="765" width="195.7" height="26.25" rx="3.5" fill="#e6b432"/><rect x="1494.7" y="765" width="2.3" height="26.25" rx="1.1" fill="#e03030"/><rect x="1498.0" y="765" width="5.4" height="26.25" rx="2.7" fill="#e04040"/><rect x="1509.3" y="765" width="30.0" height="26.25" rx="3.5" fill="#f5be1e"/><rect x="1542.2" y="765" width="8.8" height="26.25" rx="3.5" fill="#f5c81e"/><rect x="1559.0" y="765" width="2.0" height="26.25" rx="1.0" fill="#e03030"/><rect x="1564.5" y="765" width="5.8" height="26.25" rx="2.9" fill="#dc461e"/><rect x="1302.0" y="737" width="32.9" height="26.25" rx="3.5" fill="#e6461a"/><rect x="1336.8" y="737" width="153.1" height="26.25" rx="3.5" fill="#fa143c"/><rect x="1491.0" y="737" width="2.0" height="26.25" rx="1.0" fill="#e08040"/><rect x="1494.5" y="737" width="2.5" height="26.25" rx="1.2" fill="#e03030"/><rect x="1498.5" y="737" width="4.5" height="26.25" rx="2.2" fill="#e04040"/><rect x="1505.0" y="737" width="2.0" height="26.25" rx="1.0" fill="#e08060"/><rect x="1513.0" y="737" width="12.7" height="26.25" rx="3.5" fill="#eb2828"/><rect x="1527.0" y="737" width="2.0" height="26.25" rx="1.0" fill="#e04040"/><rect x="1532.5" y="737" width="5.8" height="26.25" rx="2.9" fill="#ebc828"/><rect x="1545.0" y="737" width="6.0" height="26.25" rx="3.0" fill="#e11e14"/><rect x="1559.0" y="737" width="1.5" height="26.25" rx="0.8" fill="#e06060"/><rect x="1569.0" y="737" width="1.5" height="26.25" rx="0.8" fill="#e08080"/><rect x="1302.0" y="709" width="32.9" height="26.25" rx="3.5" fill="#d71423"/><rect x="1339.0" y="709" width="2.0" height="26.25" rx="1.0" fill="#e0c040"/><rect x="1342.5" y="709" width="2.5" height="26.25" rx="1.2" fill="#e09040"/><rect x="1347.5" y="709" width="138.9" height="26.25" rx="3.5" fill="#e15014"/><rect x="1488.0" y="709" width="2.0" height="26.25" rx="1.0" fill="#e0c040"/><rect x="1495.0" y="709" width="2.0" height="26.25" rx="1.0" fill="#e0a040"/><rect x="1498.5" y="709" width="4.0" height="26.25" rx="2.0" fill="#f02020"/><rect x="1514.0" y="709" width="12.7" height="26.25" rx="3.5" fill="#d7d714"/><rect x="1531.0" y="709" width="2.0" height="26.25" rx="1.0" fill="#e06030"/><rect x="1535.0" y="709" width="2.0" height="26.25" rx="1.0" fill="#e04040"/><rect x="1541.0" y="709" width="2.0" height="26.25" rx="1.0" fill="#f04040"/><rect x="1547.0" y="709" width="3.0" height="26.25" rx="1.5" fill="#e0a040"/><rect x="1303.0" y="681" width="32.5" height="26.25" rx="3.5" fill="#f06414"/><rect x="1341.0" y="681" width="2.0" height="26.25" rx="1.0" fill="#e0c040"/><rect x="1344.5" y="681" width="2.0" height="26.25" rx="1.0" fill="#e08040"/><rect x="1348.1" y="681" width="138.3" height="26.25" rx="3.5" fill="#f5140a"/><rect x="1496.0" y="681" width="2.0" height="26.25" rx="1.0" fill="#f03030"/><rect x="1500.0" y="681" width="3.0" height="26.25" rx="1.5" fill="#e04040"/><rect x="1514.7" y="681" width="10.1" height="26.25" rx="3.5" fill="#d2a50f"/><rect x="1532.0" y="681" width="2.0" height="26.25" rx="1.0" fill="#e04040"/><rect x="1537.0" y="681" width="3.0" height="26.25" rx="1.5" fill="#f02020"/><rect x="1544.0" y="681" width="2.0" height="26.25" rx="1.0" fill="#e0a040"/><rect x="1343.5" y="653" width="2.5" height="26.25" rx="1.2" fill="#e03040"/><rect x="1349.4" y="653" width="137.0" height="26.25" rx="3.5" fill="#e60f28"/><rect x="1496.0" y="653" width="2.0" height="26.25" rx="1.0" fill="#e04040"/><rect x="1500.5" y="653" width="2.5" height="26.25" rx="1.2" fill="#e07040"/><rect x="1514.7" y="653" width="10.1" height="26.25" rx="3.5" fill="#f0cd0f"/><rect x="1532.0" y="653" width="2.0" height="26.25" rx="1.0" fill="#e0c040"/><rect x="1535.0" y="653" width="3.0" height="26.25" rx="1.5" fill="#e0e030"/><rect x="1541.0" y="653" width="2.0" height="26.25" rx="1.0" fill="#e08040"/><rect x="1546.0" y="653" width="2.0" height="26.25" rx="1.0" fill="#e04040"/><rect x="1332.0" y="625" width="2.5" height="26.25" rx="1.2" fill="#e09040"/><rect x="1351.3" y="625" width="134.7" height="26.25" rx="3.5" fill="#e12332"/><rect x="1509.0" y="625" width="1.5" height="26.25" rx="0.8" fill="#e0b060"/><rect x="1514.7" y="625" width="10.1" height="26.25" rx="3.5" fill="#e6d71e"/><rect x="1526.0" y="625" width="2.0" height="26.25" rx="1.0" fill="#e04040"/><rect x="1531.0" y="625" width="2.0" height="26.25" rx="1.0" fill="#e08040"/><rect x="1535.0" y="625" width="2.0" height="26.25" rx="1.0" fill="#e0a040"/><rect x="1541.0" y="625" width="2.0" height="26.25" rx="1.0" fill="#e04040"/><rect x="1547.0" y="625" width="3.0" height="26.25" rx="1.5" fill="#e0d040"/><rect x="1309.0" y="597" width="1.5" height="26.25" rx="0.8" fill="#e0a040"/><rect x="1351.3" y="597" width="134.3" height="26.25" rx="3.5" fill="#eb781e"/><rect x="1509.0" y="597" width="1.5" height="26.25" rx="0.8" fill="#e0b060"/><rect x="1516.0" y="597" width="6.8" height="26.25" rx="3.4" fill="#dc2828"/><rect x="1526.0" y="597" width="2.0" height="26.25" rx="1.0" fill="#e06040"/><rect x="1531.0" y="597" width="2.0" height="26.25" rx="1.0" fill="#e04040"/><rect x="1535.5" y="597" width="2.5" height="26.25" rx="1.2" fill="#f03020"/><rect x="1540.0" y="597" width="2.0" height="26.25" rx="1.0" fill="#e09040"/><rect x="1549.0" y="597" width="2.0" height="26.25" rx="1.0" fill="#e0d040"/><rect x="1579.4" y="765" width="1.6" height="26.25" rx="0.8" fill="#e08040"/><rect x="1583.0" y="765" width="3.0" height="26.25" rx="1.5" fill="#e05030"/><rect x="1595.5" y="765" width="154.4" height="26.25" rx="3.5" fill="#f00f37"/><rect x="1751.8" y="765" width="1.7" height="26.25" rx="0.9" fill="#e09040"/><rect x="1754.5" y="765" width="2.2" height="26.25" rx="1.1" fill="#e06040"/><rect x="1809.0" y="765" width="4.8" height="26.25" rx="2.4" fill="#f58c14"/><rect x="1813.8" y="765" width="16.5" height="26.25" rx="3.5" fill="#d2230a"/><rect x="1831.0" y="765" width="3.0" height="26.25" rx="1.5" fill="#e0d040"/><rect x="1560.0" y="737" width="2.0" height="26.25" rx="1.0" fill="#e09040"/><rect x="1564.0" y="737" width="2.0" height="26.25" rx="1.0" fill="#d8a040"/><rect x="1568.0" y="737" width="2.0" height="26.25" rx="1.0" fill="#e08040"/><rect x="1584.0" y="737" width="2.0" height="26.25" rx="1.0" fill="#e03040"/><rect x="1601.0" y="737" width="2.0" height="26.25" rx="1.0" fill="#e0a030"/><rect x="1605.5" y="737" width="20.4" height="26.25" rx="3.5" fill="#e16e0f"/><rect x="1628.2" y="737" width="111.0" height="26.25" rx="3.5" fill="#d28223"/><rect x="1742.1" y="737" width="5.5" height="26.25" rx="2.8" fill="#d7370a"/><rect x="1749.0" y="737" width="2.5" height="26.25" rx="1.2" fill="#e08060"/><rect x="1754.5" y="737" width="2.0" height="26.25" rx="1.0" fill="#e04030"/><rect x="1809.0" y="737" width="3.0" height="26.25" rx="1.5" fill="#f0d030"/><rect x="1829.0" y="737" width="1.5" height="26.25" rx="0.8" fill="#e0a060"/><rect x="1579.0" y="709" width="2.0" height="26.25" rx="1.0" fill="#e09060"/><rect x="1583.0" y="709" width="2.0" height="26.25" rx="1.0" fill="#e06040"/><rect x="1601.0" y="709" width="2.0" height="26.25" rx="1.0" fill="#e07040"/><rect x="1604.0" y="709" width="2.0" height="26.25" rx="1.0" fill="#e0a040"/><rect x="1607.5" y="709" width="18.4" height="26.25" rx="3.5" fill="#d7c314"/><rect x="1633.6" y="709" width="35.9" height="26.25" rx="3.5" fill="#e15a32"/><rect x="1670.8" y="709" width="12.2" height="26.25" rx="3.5" fill="#d2460f"/><rect x="1684.0" y="709" width="9.7" height="26.25" rx="3.5" fill="#dc321e"/><rect x="1694.7" y="709" width="23.2" height="26.25" rx="3.5" fill="#fa7d0a"/><rect x="1718.9" y="709" width="10.6" height="26.25" rx="3.5" fill="#f5b928"/><rect x="1731.5" y="709" width="5.2" height="26.25" rx="2.6" fill="#dc5537"/><rect x="1738.0" y="709" width="1.5" height="26.25" rx="0.8" fill="#f0e020"/><rect x="1742.1" y="709" width="5.5" height="26.25" rx="2.8" fill="#eb1923"/><rect x="1754.5" y="709" width="2.0" height="26.25" rx="1.0" fill="#e04040"/><rect x="1810.5" y="709" width="1.5" height="26.25" rx="0.8" fill="#e04040"/><rect x="1600.5" y="681" width="2.0" height="26.25" rx="1.0" fill="#e03030"/><rect x="1610.8" y="681" width="5.8" height="26.25" rx="2.9" fill="#ebd214"/><rect x="1617.5" y="681" width="5.5" height="26.25" rx="2.8" fill="#f5aa14"/><rect x="1624.0" y="681" width="2.0" height="26.25" rx="1.0" fill="#e0a040"/><rect x="1634.0" y="681" width="35.5" height="26.25" rx="3.5" fill="#e61e0a"/><rect x="1671.4" y="681" width="11.6" height="26.25" rx="3.5" fill="#d75032"/><rect x="1684.4" y="681" width="9.3" height="26.25" rx="3.5" fill="#f09623"/><rect x="1698.0" y="681" width="2.0" height="26.25" rx="1.0" fill="#e0b040"/><rect x="1701.0" y="681" width="1.0" height="26.25" rx="0.5" fill="#e06040"/><rect x="1703.0" y="681" width="10.0" height="26.25" rx="3.5" fill="#f03c1e"/><rect x="1714.0" y="681" width="2.5" height="26.25" rx="1.2" fill="#e03030"/><rect x="1720.8" y="681" width="8.7" height="26.25" rx="3.5" fill="#eb2d32"/><rect x="1732.0" y="681" width="4.7" height="26.25" rx="2.4" fill="#d7a01e"/><rect x="1754.5" y="681" width="2.0" height="26.25" rx="1.0" fill="#e08040"/><rect x="1600.5" y="653" width="2.0" height="26.25" rx="1.0" fill="#e03030"/><rect x="1610.8" y="653" width="5.8" height="26.25" rx="2.9" fill="#e1961e"/><rect x="1618.0" y="653" width="5.0" height="26.25" rx="2.5" fill="#eb1414"/><rect x="1634.0" y="653" width="35.5" height="26.25" rx="3.5" fill="#f02d37"/><rect x="1671.4" y="653" width="11.6" height="26.25" rx="3.5" fill="#ebbe23"/><rect x="1687.0" y="653" width="2.0" height="26.25" rx="1.0" fill="#e08040"/><rect x="1692.0" y="653" width="2.0" height="26.25" rx="1.0" fill="#e04040"/><rect x="1698.0" y="653" width="3.0" height="26.25" rx="1.5" fill="#e03040"/><rect x="1706.0" y="653" width="2.0" height="26.25" rx="1.0" fill="#e0c040"/><rect x="1709.0" y="653" width="3.0" height="26.25" rx="1.5" fill="#e04040"/><rect x="1720.0" y="653" width="2.0" height="26.25" rx="1.0" fill="#e08060"/><rect x="1724.0" y="653" width="5.0" height="26.25" rx="2.5" fill="#e04040"/><rect x="1755.0" y="653" width="1.5" height="26.25" rx="0.8" fill="#e04040"/><rect x="1611.3" y="625" width="5.3" height="26.25" rx="2.6" fill="#f5aa28"/><rect x="1634.6" y="625" width="34.9" height="26.25" rx="3.5" fill="#eb7305"/><rect x="1674.0" y="625" width="2.0" height="26.25" rx="1.0" fill="#e02020"/><rect x="1677.0" y="625" width="6.0" height="26.25" rx="3.0" fill="#d7781e"/><rect x="1687.0" y="625" width="3.0" height="26.25" rx="1.5" fill="#e0d030"/><rect x="1699.0" y="625" width="2.0" height="26.25" rx="1.0" fill="#e0a040"/><rect x="1706.0" y="625" width="2.0" height="26.25" rx="1.0" fill="#e04040"/><rect x="1712.0" y="625" width="3.0" height="26.25" rx="1.5" fill="#e03030"/><rect x="1723.0" y="625" width="5.0" height="26.25" rx="2.5" fill="#e0a040"/><rect x="1755.0" y="625" width="1.5" height="26.25" rx="0.8" fill="#e04040"/><rect x="1612.0" y="597" width="4.0" height="26.25" rx="2.0" fill="#f5aa28"/><rect x="1636.0" y="597" width="33.5" height="26.25" rx="3.5" fill="#f00a2d"/><rect x="1684.0" y="597" width="2.0" height="26.25" rx="1.0" fill="#e0a040"/><rect x="1688.0" y="597" width="2.0" height="26.25" rx="1.0" fill="#f0d020"/><rect x="1699.0" y="597" width="2.5" height="26.25" rx="1.2" fill="#e04020"/><rect x="1707.0" y="597" width="2.0" height="26.25" rx="1.0" fill="#e04040"/><rect x="1723.0" y="597" width="2.0" height="26.25" rx="1.0" fill="#e06040"/><rect x="1727.0" y="597" width="2.0" height="26.25" rx="1.0" fill="#e0c040"/><rect x="1754.5" y="597" width="1.5" height="26.25" rx="0.8" fill="#e08040"/><rect x="1831.5" y="765" width="1.5" height="26.25" rx="0.8" fill="#e0c060"/><rect x="1838.0" y="765" width="3.0" height="26.25" rx="1.5" fill="#e03030"/><rect x="1841.6" y="765" width="7.2" height="26.25" rx="3.5" fill="#e6be14"/><rect x="1855.0" y="765" width="1.0" height="26.25" rx="0.5" fill="#e0a040"/><rect x="1856.0" y="765" width="6.7" height="26.25" rx="3.4" fill="#e65a3c"/><rect x="1864.0" y="765" width="3.0" height="26.25" rx="1.5" fill="#e03030"/><rect x="1878.2" y="765" width="7.0" height="26.25" rx="3.5" fill="#dcdc00"/><rect x="1887.0" y="765" width="2.0" height="26.25" rx="1.0" fill="#e0c040"/><rect x="1890.5" y="765" width="2.5" height="26.25" rx="1.2" fill="#e04040"/><rect x="1900.0" y="765" width="6.9" height="26.25" rx="3.5" fill="#f5dc14"/><rect x="1908.4" y="765" width="7.2" height="26.25" rx="3.5" fill="#f54114"/><rect x="1919.5" y="765" width="23.8" height="26.25" rx="3.5" fill="#e15a28"/><rect x="1948.0" y="765" width="4.0" height="26.25" rx="2.0" fill="#e09040"/><rect x="1982.8" y="765" width="24.8" height="26.25" rx="3.5" fill="#d77332"/><rect x="2020.8" y="765" width="29.1" height="26.25" rx="3.5" fill="#f58c0a"/><rect x="2050.5" y="765" width="3.0" height="26.25" rx="1.5" fill="#f01020"/><rect x="2055.7" y="765" width="18.8" height="26.25" rx="3.5" fill="#d26e19"/><rect x="1810.0" y="737" width="2.0" height="26.25" rx="1.0" fill="#e0d040"/><rect x="1829.0" y="737" width="1.5" height="26.25" rx="0.8" fill="#e0a060"/><rect x="1839.0" y="737" width="9.8" height="26.25" rx="3.5" fill="#e18228"/><rect x="1855.5" y="737" width="7.0" height="26.25" rx="3.5" fill="#dc6e2d"/><rect x="1864.0" y="737" width="3.0" height="26.25" rx="1.5" fill="#e06030"/><rect x="1878.2" y="737" width="7.0" height="26.25" rx="3.5" fill="#d7aa23"/><rect x="1887.0" y="737" width="2.0" height="26.25" rx="1.0" fill="#e03030"/><rect x="1890.0" y="737" width="2.0" height="26.25" rx="1.0" fill="#e06040"/><rect x="1901.0" y="737" width="5.9" height="26.25" rx="3.0" fill="#eb3714"/><rect x="1908.8" y="737" width="6.8" height="26.25" rx="3.4" fill="#ebc832"/><rect x="1919.5" y="737" width="23.8" height="26.25" rx="3.5" fill="#fa192d"/><rect x="1948.5" y="737" width="2.0" height="26.25" rx="1.0" fill="#d01010"/><rect x="1982.8" y="737" width="24.8" height="26.25" rx="3.5" fill="#f0640a"/><rect x="2020.8" y="737" width="29.1" height="26.25" rx="3.5" fill="#dcaa37"/><rect x="2051.0" y="737" width="2.0" height="26.25" rx="1.0" fill="#e0a020"/><rect x="2055.7" y="737" width="18.8" height="26.25" rx="3.5" fill="#e1a52d"/><rect x="1811.0" y="709" width="1.5" height="26.25" rx="0.8" fill="#e02020"/><rect x="1829.0" y="709" width="1.5" height="26.25" rx="0.8" fill="#e08060"/><rect x="1839.0" y="709" width="2.0" height="26.25" rx="1.0" fill="#e0e040"/><rect x="1841.6" y="709" width="7.2" height="26.25" rx="3.5" fill="#fa551e"/><rect x="1856.0" y="709" width="2.0" height="26.25" rx="1.0" fill="#e0d040"/><rect x="1860.0" y="709" width="2.0" height="26.25" rx="1.0" fill="#e09040"/><rect x="1863.5" y="709" width="3.5" height="26.25" rx="1.8" fill="#e0d040"/><rect x="1878.2" y="709" width="7.0" height="26.25" rx="3.5" fill="#e6aa0f"/><rect x="1888.0" y="709" width="3.0" height="26.25" rx="1.5" fill="#e0e040"/><rect x="1901.0" y="709" width="5.0" height="26.25" rx="2.5" fill="#e08030"/><rect x="1908.4" y="709" width="7.2" height="26.25" rx="3.5" fill="#fa3232"/><rect x="1919.5" y="709" width="23.8" height="26.25" rx="3.5" fill="#d28c1e"/><rect x="1948.0" y="709" width="3.0" height="26.25" rx="1.5" fill="#e08040"/><rect x="1982.8" y="709" width="24.8" height="26.25" rx="3.5" fill="#dc1e14"/><rect x="2022.2" y="709" width="25.2" height="26.25" rx="3.5" fill="#e61937"/><rect x="2048.0" y="709" width="2.0" height="26.25" rx="1.0" fill="#e08060"/><rect x="2055.7" y="709" width="18.8" height="26.25" rx="3.5" fill="#d76400"/><rect x="1839.0" y="681" width="2.0" height="26.25" rx="1.0" fill="#e02020"/><rect x="1841.6" y="681" width="7.2" height="26.25" rx="3.5" fill="#f0500a"/><rect x="1859.0" y="681" width="3.0" height="26.25" rx="1.5" fill="#e8a040"/><rect x="1863.5" y="681" width="3.5" height="26.25" rx="1.8" fill="#e03030"/><rect x="1878.2" y="681" width="7.0" height="26.25" rx="3.5" fill="#f09628"/><rect x="1888.5" y="681" width="2.5" height="26.25" rx="1.2" fill="#e03030"/><rect x="1903.0" y="681" width="3.0" height="26.25" rx="1.5" fill="#e09030"/><rect x="1908.4" y="681" width="7.2" height="26.25" rx="3.5" fill="#dc3c32"/><rect x="1921.5" y="681" width="1.0" height="26.25" rx="0.5" fill="#e02020"/><rect x="1923.4" y="681" width="19.9" height="26.25" rx="3.5" fill="#dc5f19"/><rect x="1948.5" y="681" width="2.0" height="26.25" rx="1.0" fill="#e02020"/><rect x="1982.8" y="681" width="24.8" height="26.25" rx="3.5" fill="#d2be37"/><rect x="2024.7" y="681" width="22.1" height="26.25" rx="3.5" fill="#e16e19"/><rect x="2048.0" y="681" width="1.5" height="26.25" rx="0.8" fill="#e0a060"/><rect x="2055.7" y="681" width="18.8" height="26.25" rx="3.5" fill="#ebaf19"/><rect x="1839.0" y="653" width="1.5" height="26.25" rx="0.8" fill="#e0e040"/><rect x="1841.6" y="653" width="7.2" height="26.25" rx="3.5" fill="#f5732d"/><rect x="1856.0" y="653" width="2.0" height="26.25" rx="1.0" fill="#e0d040"/><rect x="1860.0" y="653" width="2.0" height="26.25" rx="1.0" fill="#e8e040"/><rect x="1864.0" y="653" width="3.0" height="26.25" rx="1.5" fill="#e0b040"/><rect x="1878.2" y="653" width="7.0" height="26.25" rx="3.5" fill="#dcd228"/><rect x="1888.0" y="653" width="3.0" height="26.25" rx="1.5" fill="#e0e040"/><rect x="1902.0" y="653" width="4.0" height="26.25" rx="2.0" fill="#e08030"/><rect x="1908.8" y="653" width="6.8" height="26.25" rx="3.4" fill="#f5cd0a"/><rect x="1924.3" y="653" width="19.0" height="26.25" rx="3.5" fill="#d74b1e"/><rect x="1948.5" y="653" width="2.5" height="26.25" rx="1.2" fill="#e07040"/><rect x="1982.8" y="653" width="24.8" height="26.25" rx="3.5" fill="#d26e0f"/><rect x="2024.7" y="653" width="22.1" height="26.25" rx="3.5" fill="#f01928"/><rect x="2055.7" y="653" width="18.8" height="26.25" rx="3.5" fill="#dc1428"/><rect x="1829.0" y="625" width="1.5" height="26.25" rx="0.8" fill="#e08060"/><rect x="1831.5" y="625" width="1.5" height="26.25" rx="0.8" fill="#e0c060"/><rect x="1841.6" y="625" width="7.2" height="26.25" rx="3.5" fill="#f55514"/><rect x="1856.0" y="625" width="2.0" height="26.25" rx="1.0" fill="#e0a040"/><rect x="1861.0" y="625" width="2.0" height="26.25" rx="1.0" fill="#e0c040"/><rect x="1864.5" y="625" width="2.5" height="26.25" rx="1.2" fill="#e0c040"/><rect x="1878.8" y="625" width="6.4" height="26.25" rx="3.2" fill="#dc8228"/><rect x="1887.0" y="625" width="2.0" height="26.25" rx="1.0" fill="#e0a040"/><rect x="1890.5" y="625" width="2.0" height="26.25" rx="1.0" fill="#e04040"/><rect x="1901.0" y="625" width="2.0" height="26.25" rx="1.0" fill="#e0a040"/><rect x="1904.5" y="625" width="2.0" height="26.25" rx="1.0" fill="#e08040"/><rect x="1908.8" y="625" width="6.8" height="26.25" rx="3.4" fill="#d2281e"/><rect x="1927.8" y="625" width="14.0" height="26.25" rx="3.5" fill="#f51432"/><rect x="1948.5" y="625" width="3.5" height="26.25" rx="1.8" fill="#e08040"/><rect x="1983.0" y="625" width="1.5" height="26.25" rx="0.8" fill="#e08080"/><rect x="1985.4" y="625" width="11.6" height="26.25" rx="3.5" fill="#facd0a"/><rect x="1998.0" y="625" width="7.7" height="26.25" rx="3.5" fill="#dc9637"/><rect x="2006.5" y="625" width="1.5" height="26.25" rx="0.8" fill="#e0e040"/><rect x="2026.0" y="625" width="5.0" height="26.25" rx="2.5" fill="#f56414"/><rect x="2031.9" y="625" width="7.7" height="26.25" rx="3.5" fill="#d20f19"/><rect x="2040.0" y="625" width="1.5" height="26.25" rx="0.8" fill="#d8d020"/><rect x="2043.0" y="625" width="3.0" height="26.25" rx="1.5" fill="#dc7832"/><rect x="2055.7" y="625" width="18.8" height="26.25" rx="3.5" fill="#d76e28"/><rect x="1829.0" y="597" width="1.5" height="26.25" rx="0.8" fill="#e08060"/><rect x="1831.5" y="597" width="1.5" height="26.25" rx="0.8" fill="#e0c060"/><rect x="1841.6" y="597" width="7.2" height="26.25" rx="3.5" fill="#e6be1e"/><rect x="1856.0" y="597" width="2.0" height="26.25" rx="1.0" fill="#e08040"/><rect x="1860.0" y="597" width="2.0" height="26.25" rx="1.0" fill="#e0d040"/><rect x="1864.5" y="597" width="2.5" height="26.25" rx="1.2" fill="#e0c040"/><rect x="1879.8" y="597" width="4.8" height="26.25" rx="2.4" fill="#dc5a28"/><rect x="1886.5" y="597" width="2.0" height="26.25" rx="1.0" fill="#e02020"/><rect x="1901.0" y="597" width="2.0" height="26.25" rx="1.0" fill="#e0a040"/><rect x="1904.5" y="597" width="2.0" height="26.25" rx="1.0" fill="#e08040"/><rect x="1908.8" y="597" width="6.8" height="26.25" rx="3.4" fill="#e1dc32"/><rect x="1927.8" y="597" width="10.1" height="26.25" rx="3.5" fill="#e62d0f"/><rect x="1938.5" y="597" width="3.0" height="26.25" rx="1.5" fill="#f0c020"/><rect x="1950.0" y="597" width="2.0" height="26.25" rx="1.0" fill="#e08060"/><rect x="1984.0" y="597" width="3.0" height="26.25" rx="1.5" fill="#f05020"/><rect x="1988.0" y="597" width="7.0" height="26.25" rx="3.5" fill="#dc321e"/><rect x="1997.0" y="597" width="7.7" height="26.25" rx="3.5" fill="#e1dc37"/><rect x="2005.0" y="597" width="2.0" height="26.25" rx="1.0" fill="#e08040"/><rect x="2026.0" y="597" width="5.0" height="26.25" rx="2.5" fill="#dc8c28"/><rect x="2032.8" y="597" width="5.8" height="26.25" rx="2.9" fill="#dc371e"/><rect x="2039.5" y="597" width="1.5" height="26.25" rx="0.8" fill="#d8d020"/><rect x="2042.0" y="597" width="4.0" height="26.25" rx="2.0" fill="#e08040"/><rect x="2055.7" y="597" width="18.8" height="26.25" rx="3.5" fill="#d29128"/><rect x="32.5" y="569" width="2.0" height="26.25" rx="1.0" fill="#d8d840"/><rect x="36.8" y="569" width="28.7" height="26.25" rx="3.5" fill="#d78723"/><rect x="71.5" y="569" width="1.0" height="26.25" rx="0.5" fill="#e0a080"/><rect x="82.3" y="569" width="1.7" height="26.25" rx="0.9" fill="#e06040"/><rect x="85.0" y="569" width="2.0" height="26.25" rx="1.0" fill="#e0c040"/><rect x="88.0" y="569" width="1.1" height="26.25" rx="0.5" fill="#e04040"/><rect x="96.9" y="569" width="3.9" height="26.25" rx="1.9" fill="#d70f19"/><rect x="108.5" y="569" width="3.5" height="26.25" rx="1.8" fill="#e0b040"/><rect x="168.2" y="569" width="15.5" height="26.25" rx="3.5" fill="#d72d1e"/><rect x="190.9" y="569" width="16.4" height="26.25" rx="3.5" fill="#f00f23"/><rect x="207.7" y="569" width="7.8" height="26.25" rx="3.5" fill="#cd1423"/><rect x="219.0" y="569" width="3.0" height="26.25" rx="1.5" fill="#e08030"/><rect x="223.0" y="569" width="2.0" height="26.25" rx="1.0" fill="#e03040"/><rect x="226.0" y="569" width="2.0" height="26.25" rx="1.0" fill="#e06060"/><rect x="241.0" y="569" width="4.0" height="26.25" rx="2.0" fill="#d8c060"/><rect x="36.8" y="541" width="28.7" height="26.25" rx="3.5" fill="#f50a23"/><rect x="85.5" y="541" width="1.5" height="26.25" rx="0.8" fill="#d04030"/><rect x="96.9" y="541" width="3.9" height="26.25" rx="1.9" fill="#e65a32"/><rect x="108.5" y="541" width="3.5" height="26.25" rx="1.8" fill="#e08060"/><rect x="171.5" y="541" width="2.0" height="26.25" rx="1.0" fill="#e0d040"/><rect x="173.8" y="541" width="4.1" height="26.25" rx="2.0" fill="#f05a14"/><rect x="177.9" y="541" width="4.6" height="26.25" rx="2.3" fill="#f00f19"/><rect x="191.4" y="541" width="15.5" height="26.25" rx="3.5" fill="#d72d0f"/><rect x="207.7" y="541" width="7.8" height="26.25" rx="3.5" fill="#f00a0a"/><rect x="221.5" y="541" width="2.0" height="26.25" rx="1.0" fill="#f0d050"/><rect x="241.0" y="541" width="2.0" height="26.25" rx="1.0" fill="#e09070"/><rect x="38.2" y="513" width="6.8" height="26.25" rx="3.4" fill="#f00000"/><rect x="45.5" y="513" width="10.3" height="26.25" rx="3.5" fill="#d29b0f"/><rect x="56.2" y="513" width="2.9" height="26.25" rx="1.4" fill="#e61428"/><rect x="60.0" y="513" width="4.9" height="26.25" rx="2.5" fill="#f0281e"/><rect x="97.0" y="513" width="3.5" height="26.25" rx="1.8" fill="#d02040"/><rect x="108.0" y="513" width="2.0" height="26.25" rx="1.0" fill="#e06060"/><rect x="111.0" y="513" width="1.5" height="26.25" rx="0.8" fill="#e0c060"/><rect x="172.0" y="513" width="2.0" height="26.25" rx="1.0" fill="#e08060"/><rect x="175.0" y="513" width="2.0" height="26.25" rx="1.0" fill="#d8b040"/><rect x="178.5" y="513" width="1.5" height="26.25" rx="0.8" fill="#e08040"/><rect x="181.0" y="513" width="2.0" height="26.25" rx="1.0" fill="#e0e040"/><rect x="193.0" y="513" width="3.5" height="26.25" rx="1.8" fill="#e06040"/><rect x="197.6" y="513" width="9.3" height="26.25" rx="3.5" fill="#eba537"/><rect x="207.7" y="513" width="7.8" height="26.25" rx="3.5" fill="#dc5f1e"/><rect x="38.2" y="485" width="6.8" height="26.25" rx="3.4" fill="#f58c19"/><rect x="47.5" y="485" width="8.3" height="26.25" rx="3.5" fill="#f5be1e"/><rect x="56.5" y="485" width="3.0" height="26.25" rx="1.5" fill="#e06030"/><rect x="61.0" y="485" width="3.9" height="26.25" rx="2.0" fill="#e65a32"/><rect x="97.0" y="485" width="3.5" height="26.25" rx="1.8" fill="#e07030"/><rect x="112.0" y="485" width="1.0" height="26.25" rx="0.5" fill="#e0a080"/><rect x="176.0" y="485" width="1.0" height="26.25" rx="0.5" fill="#e8e0a0"/><rect x="195.5" y="485" width="2.0" height="26.25" rx="1.0" fill="#d02020"/><rect x="198.6" y="485" width="8.3" height="26.25" rx="3.5" fill="#f53223"/><rect x="38.8" y="457" width="6.2" height="26.25" rx="3.1" fill="#f0c30f"/><rect x="48.0" y="457" width="5.9" height="26.25" rx="2.9" fill="#ebdc28"/><rect x="54.0" y="457" width="2.0" height="26.25" rx="1.0" fill="#f04030"/><rect x="57.0" y="457" width="2.0" height="26.25" rx="1.0" fill="#e08060"/><rect x="60.0" y="457" width="1.5" height="26.25" rx="0.8" fill="#e0c080"/><rect x="97.0" y="457" width="3.5" height="26.25" rx="1.8" fill="#e07030"/><rect x="112.0" y="457" width="1.0" height="26.25" rx="0.5" fill="#e0a080"/><rect x="195.5" y="457" width="2.0" height="26.25" rx="1.0" fill="#e08030"/><rect x="200.0" y="457" width="6.4" height="26.25" rx="3.2" fill="#e11e1e"/><rect x="40.5" y="429" width="2.0" height="26.25" rx="1.0" fill="#e09040"/><rect x="43.0" y="429" width="1.5" height="26.25" rx="0.8" fill="#d03030"/><rect x="48.0" y="429" width="5.3" height="26.25" rx="2.6" fill="#dcb41e"/><rect x="54.0" y="429" width="2.0" height="26.25" rx="1.0" fill="#e8e040"/><rect x="64.0" y="429" width="1.0" height="26.25" rx="0.5" fill="#e0e0a0"/><rect x="97.5" y="429" width="3.0" height="26.25" rx="1.5" fill="#e04040"/><rect x="201.1" y="429" width="5.3" height="26.25" rx="2.7" fill="#f08728"/><rect x="41.5" y="401" width="1.5" height="26.25" rx="0.8" fill="#e09060"/><rect x="44.0" y="401" width="1.0" height="26.25" rx="0.5" fill="#e07040"/><rect x="48.4" y="401" width="4.9" height="26.25" rx="2.4" fill="#dc8232"/><rect x="54.0" y="401" width="2.0" height="26.25" rx="1.0" fill="#e8d040"/><rect x="97.5" y="401" width="3.0" height="26.25" rx="1.5" fill="#e05050"/><rect x="201.9" y="401" width="4.5" height="26.25" rx="2.2" fill="#f5552d"/><rect x="373.4" y="569" width="1.1" height="26.25" rx="0.6" fill="#e0d040"/><rect x="377.2" y="569" width="37.8" height="26.25" rx="3.5" fill="#dc6905"/><rect x="418.0" y="569" width="1.0" height="26.25" rx="0.5" fill="#e09060"/><rect x="420.4" y="569" width="10.1" height="26.25" rx="3.5" fill="#fa3c14"/><rect x="449.0" y="569" width="1.5" height="26.25" rx="0.8" fill="#e0a080"/><rect x="455.0" y="569" width="1.5" height="26.25" rx="0.8" fill="#e0d060"/><rect x="461.5" y="569" width="6.8" height="26.25" rx="3.4" fill="#e13223"/><rect x="468.9" y="569" width="10.1" height="26.25" rx="3.5" fill="#cd1419"/><rect x="480.9" y="569" width="32.0" height="26.25" rx="3.5" fill="#f50a2d"/><rect x="379.0" y="541" width="2.0" height="26.25" rx="1.0" fill="#e09020"/><rect x="382.0" y="541" width="27.2" height="26.25" rx="3.5" fill="#f01e23"/><rect x="410.2" y="541" width="4.8" height="26.25" rx="2.4" fill="#e1d219"/><rect x="420.4" y="541" width="9.1" height="26.25" rx="3.5" fill="#e1550f"/><rect x="429.5" y="541" width="1.5" height="26.25" rx="0.8" fill="#e0a060"/><rect x="449.0" y="541" width="1.5" height="26.25" rx="0.8" fill="#e0d060"/><rect x="455.0" y="541" width="1.5" height="26.25" rx="0.8" fill="#e0d060"/><rect x="462.0" y="541" width="2.0" height="26.25" rx="1.0" fill="#e08020"/><rect x="465.0" y="541" width="2.0" height="26.25" rx="1.0" fill="#e0d030"/><rect x="469.3" y="541" width="10.0" height="26.25" rx="3.5" fill="#e63c28"/><rect x="481.0" y="541" width="1.5" height="26.25" rx="0.8" fill="#e08040"/><rect x="483.8" y="541" width="29.1" height="26.25" rx="3.5" fill="#e66919"/><rect x="382.0" y="513" width="21.0" height="26.25" rx="3.5" fill="#eb1414"/><rect x="403.8" y="513" width="5.4" height="26.25" rx="2.7" fill="#d25a37"/><rect x="410.5" y="513" width="1.5" height="26.25" rx="0.8" fill="#e0a060"/><rect x="413.0" y="513" width="2.0" height="26.25" rx="1.0" fill="#e0c060"/><rect x="420.4" y="513" width="9.1" height="26.25" rx="3.5" fill="#fa3728"/><rect x="449.0" y="513" width="1.5" height="26.25" rx="0.8" fill="#e0a080"/><rect x="455.0" y="513" width="1.5" height="26.25" rx="0.8" fill="#e0c080"/><rect x="462.0" y="513" width="2.0" height="26.25" rx="1.0" fill="#e03030"/><rect x="465.0" y="513" width="1.5" height="26.25" rx="0.8" fill="#e08040"/><rect x="470.5" y="513" width="2.5" height="26.25" rx="1.2" fill="#e8d030"/><rect x="474.0" y="513" width="3.0" height="26.25" rx="1.5" fill="#f0c020"/><rect x="478.0" y="513" width="1.5" height="26.25" rx="0.8" fill="#e0d060"/><rect x="482.0" y="513" width="1.0" height="26.25" rx="0.5" fill="#e05050"/><rect x="483.8" y="513" width="28.5" height="26.25" rx="3.5" fill="#eb140f"/><rect x="383.0" y="485" width="10.3" height="26.25" rx="3.5" fill="#e10a1e"/><rect x="393.7" y="485" width="9.3" height="26.25" rx="3.5" fill="#eb230a"/><rect x="404.4" y="485" width="4.8" height="26.25" rx="2.4" fill="#fa140a"/><rect x="410.5" y="485" width="1.5" height="26.25" rx="0.8" fill="#e0d060"/><rect x="413.0" y="485" width="2.0" height="26.25" rx="1.0" fill="#e8e080"/><rect x="420.4" y="485" width="9.1" height="26.25" rx="3.5" fill="#e1500a"/><rect x="449.0" y="485" width="1.5" height="26.25" rx="0.8" fill="#e0a080"/><rect x="455.0" y="485" width="1.5" height="26.25" rx="0.8" fill="#e0c080"/><rect x="463.0" y="485" width="1.5" height="26.25" rx="0.8" fill="#e0a040"/><rect x="465.5" y="485" width="1.5" height="26.25" rx="0.8" fill="#e04040"/><rect x="470.5" y="485" width="2.0" height="26.25" rx="1.0" fill="#e8e020"/><rect x="473.5" y="485" width="4.0" height="26.25" rx="2.0" fill="#d89030"/><rect x="484.4" y="485" width="5.2" height="26.25" rx="2.6" fill="#eb961e"/><rect x="490.2" y="485" width="4.2" height="26.25" rx="2.1" fill="#e6e61e"/><rect x="495.4" y="485" width="16.5" height="26.25" rx="3.5" fill="#e6c31e"/><rect x="385.0" y="457" width="8.3" height="26.25" rx="3.5" fill="#f0a514"/><rect x="395.6" y="457" width="7.4" height="26.25" rx="3.5" fill="#fab900"/><rect x="404.4" y="457" width="4.8" height="26.25" rx="2.4" fill="#d26e14"/><rect x="410.0" y="457" width="1.5" height="26.25" rx="0.8" fill="#e0a060"/><rect x="413.0" y="457" width="2.0" height="26.25" rx="1.0" fill="#e0c080"/><rect x="420.8" y="457" width="8.7" height="26.25" rx="3.5" fill="#e1320f"/><rect x="449.0" y="457" width="1.0" height="26.25" rx="0.5" fill="#e0d080"/><rect x="455.0" y="457" width="1.5" height="26.25" rx="0.8" fill="#e0a080"/><rect x="463.0" y="457" width="1.5" height="26.25" rx="0.8" fill="#e0b040"/><rect x="466.0" y="457" width="1.5" height="26.25" rx="0.8" fill="#e0d060"/><rect x="470.5" y="457" width="1.5" height="26.25" rx="0.8" fill="#e8b030"/><rect x="474.0" y="457" width="2.0" height="26.25" rx="1.0" fill="#e0a040"/><rect x="484.8" y="457" width="4.8" height="26.25" rx="2.4" fill="#e1d232"/><rect x="490.2" y="457" width="4.2" height="26.25" rx="2.1" fill="#e65a0f"/><rect x="495.4" y="457" width="12.6" height="26.25" rx="3.5" fill="#e60f0f"/><rect x="508.4" y="457" width="3.5" height="26.25" rx="1.8" fill="#f01428"/><rect x="388.9" y="429" width="4.8" height="26.25" rx="2.4" fill="#e0a020"/><rect x="410.0" y="429" width="1.5" height="26.25" rx="0.8" fill="#e08060"/><rect x="420.8" y="429" width="8.7" height="26.25" rx="3.5" fill="#f55028"/><rect x="449.0" y="429" width="1.0" height="26.25" rx="0.5" fill="#e0d080"/><rect x="455.0" y="429" width="1.5" height="26.25" rx="0.8" fill="#e0a080"/><rect x="463.0" y="429" width="1.5" height="26.25" rx="0.8" fill="#e0b040"/><rect x="466.0" y="429" width="2.0" height="26.25" rx="1.0" fill="#e0d060"/><rect x="471.0" y="429" width="2.0" height="26.25" rx="1.0" fill="#e0c040"/><rect x="475.0" y="429" width="2.0" height="26.25" rx="1.0" fill="#e09040"/><rect x="486.0" y="429" width="1.5" height="26.25" rx="0.8" fill="#d02020"/><rect x="488.0" y="429" width="2.0" height="26.25" rx="1.0" fill="#e03030"/><rect x="491.0" y="429" width="2.5" height="26.25" rx="1.2" fill="#d02020"/><rect x="496.4" y="429" width="11.6" height="26.25" rx="3.5" fill="#f04b28"/><rect x="508.0" y="429" width="3.9" height="26.25" rx="1.9" fill="#dc961e"/><rect x="390.5" y="401" width="3.0" height="26.25" rx="1.5" fill="#e09020"/><rect x="402.0" y="401" width="1.0" height="26.25" rx="0.5" fill="#e0e0a0"/><rect x="410.0" y="401" width="1.5" height="26.25" rx="0.8" fill="#e08060"/><rect x="420.8" y="401" width="8.2" height="26.25" rx="3.5" fill="#d2af32"/><rect x="449.0" y="401" width="1.0" height="26.25" rx="0.5" fill="#e0c0a0"/><rect x="462.0" y="401" width="1.5" height="26.25" rx="0.8" fill="#e0a080"/><rect x="472.0" y="401" width="2.0" height="26.25" rx="1.0" fill="#e0a040"/><rect x="489.0" y="401" width="2.0" height="26.25" rx="1.0" fill="#e0b040"/><rect x="492.0" y="401" width="2.0" height="26.25" rx="1.0" fill="#e09040"/><rect x="501.2" y="401" width="5.3" height="26.25" rx="2.7" fill="#dcbe28"/><rect x="509.0" y="401" width="2.9" height="26.25" rx="1.4" fill="#f5140a"/><rect x="530.0" y="569" width="36.5" height="26.25" rx="3.5" fill="#d27319"/><rect x="567.5" y="569" width="1.5" height="26.25" rx="0.8" fill="#e0d040"/><rect x="569.5" y="569" width="1.5" height="26.25" rx="0.8" fill="#f04020"/><rect x="572.0" y="569" width="1.5" height="26.25" rx="0.8" fill="#e0d060"/><rect x="575.0" y="569" width="1.5" height="26.25" rx="0.8" fill="#e08040"/><rect x="578.0" y="569" width="2.0" height="26.25" rx="1.0" fill="#e0c060"/><rect x="581.0" y="569" width="1.5" height="26.25" rx="0.8" fill="#e08060"/><rect x="584.0" y="569" width="1.5" height="26.25" rx="0.8" fill="#e0d060"/><rect x="587.0" y="569" width="2.0" height="26.25" rx="1.0" fill="#e0c080"/><rect x="636.3" y="569" width="3.8" height="26.25" rx="1.9" fill="#e6dc1e"/><rect x="643.5" y="569" width="1.5" height="26.25" rx="0.8" fill="#e08060"/><rect x="684.5" y="569" width="1.0" height="26.25" rx="0.5" fill="#e0b080"/><rect x="711.8" y="569" width="3.9" height="26.25" rx="2.0" fill="#eb4623"/><rect x="723.0" y="569" width="1.0" height="26.25" rx="0.5" fill="#e0b080"/><rect x="733.1" y="569" width="5.5" height="26.25" rx="2.8" fill="#e15a37"/><rect x="760.0" y="569" width="1.0" height="26.25" rx="0.5" fill="#e0b080"/><rect x="564.8" y="541" width="1.7" height="26.25" rx="0.9" fill="#f04020"/><rect x="567.0" y="541" width="2.0" height="26.25" rx="1.0" fill="#e0d040"/><rect x="570.0" y="541" width="1.5" height="26.25" rx="0.8" fill="#e08060"/><rect x="573.0" y="541" width="1.5" height="26.25" rx="0.8" fill="#d02040"/><rect x="576.0" y="541" width="2.0" height="26.25" rx="1.0" fill="#e0b080"/><rect x="580.0" y="541" width="2.0" height="26.25" rx="1.0" fill="#e0a080"/><rect x="584.0" y="541" width="2.0" height="26.25" rx="1.0" fill="#e0c080"/><rect x="638.5" y="541" width="2.5" height="26.25" rx="1.2" fill="#e08060"/><rect x="644.0" y="541" width="1.0" height="26.25" rx="0.5" fill="#e0c080"/><rect x="711.0" y="541" width="1.5" height="26.25" rx="0.8" fill="#e0a080"/><rect x="713.8" y="541" width="2.2" height="26.25" rx="1.1" fill="#c81414"/><rect x="734.1" y="541" width="4.5" height="26.25" rx="2.2" fill="#e6dc1e"/><rect x="530.0" y="541" width="34.2" height="26.25" rx="3.5" fill="#eb960f"/><rect x="530.0" y="513" width="25.8" height="26.25" rx="3.5" fill="#eb1e28"/><rect x="556.8" y="513" width="7.4" height="26.25" rx="3.5" fill="#d7c332"/><rect x="565.0" y="513" width="2.0" height="26.25" rx="1.0" fill="#e08040"/><rect x="568.0" y="513" width="2.0" height="26.25" rx="1.0" fill="#e04040"/><rect x="571.5" y="513" width="1.5" height="26.25" rx="0.8" fill="#e0a060"/><rect x="575.0" y="513" width="2.0" height="26.25" rx="1.0" fill="#e08080"/><rect x="579.0" y="513" width="2.0" height="26.25" rx="1.0" fill="#e0a080"/><rect x="583.5" y="513" width="2.0" height="26.25" rx="1.0" fill="#e0c080"/><rect x="714.0" y="513" width="2.5" height="26.25" rx="1.2" fill="#e88030"/><rect x="735.5" y="513" width="2.5" height="26.25" rx="1.2" fill="#e86030"/><rect x="761.5" y="513" width="1.0" height="26.25" rx="0.5" fill="#e0d0a0"/><rect x="530.0" y="485" width="25.3" height="26.25" rx="3.5" fill="#d28228"/><rect x="556.8" y="485" width="7.4" height="26.25" rx="3.5" fill="#d75028"/><rect x="565.0" y="485" width="2.0" height="26.25" rx="1.0" fill="#e04040"/><rect x="568.5" y="485" width="2.0" height="26.25" rx="1.0" fill="#e08060"/><rect x="572.0" y="485" width="2.0" height="26.25" rx="1.0" fill="#e0a080"/><rect x="577.0" y="485" width="1.0" height="26.25" rx="0.5" fill="#e0e060"/><rect x="581.0" y="485" width="1.0" height="26.25" rx="0.5" fill="#e0e0a0"/><rect x="714.5" y="485" width="2.0" height="26.25" rx="1.0" fill="#e89050"/><rect x="735.5" y="485" width="2.0" height="26.25" rx="1.0" fill="#c81030"/><rect x="530.0" y="457" width="23.9" height="26.25" rx="3.5" fill="#f5b919"/><rect x="554.5" y="457" width="1.5" height="26.25" rx="0.8" fill="#e08040"/><rect x="556.8" y="457" width="7.4" height="26.25" rx="3.5" fill="#f50500"/><rect x="565.0" y="457" width="2.0" height="26.25" rx="1.0" fill="#e08080"/><rect x="568.5" y="457" width="2.0" height="26.25" rx="1.0" fill="#e08060"/><rect x="572.0" y="457" width="2.0" height="26.25" rx="1.0" fill="#e0a080"/><rect x="581.0" y="457" width="1.0" height="26.25" rx="0.5" fill="#e0e0a0"/><rect x="714.5" y="457" width="2.0" height="26.25" rx="1.0" fill="#e08060"/><rect x="735.5" y="457" width="2.0" height="26.25" rx="1.0" fill="#d04060"/><rect x="530.0" y="429" width="22.6" height="26.25" rx="3.5" fill="#facd0f"/><rect x="553.5" y="429" width="2.5" height="26.25" rx="1.2" fill="#e09060"/><rect x="556.8" y="429" width="7.4" height="26.25" rx="3.5" fill="#dcd70a"/><rect x="565.0" y="429" width="2.0" height="26.25" rx="1.0" fill="#e09080"/><rect x="568.5" y="429" width="2.0" height="26.25" rx="1.0" fill="#e0a080"/><rect x="714.5" y="429" width="1.5" height="26.25" rx="0.8" fill="#e0a080"/><rect x="735.5" y="429" width="1.5" height="26.25" rx="0.8" fill="#e0a080"/><rect x="530.0" y="401" width="21.6" height="26.25" rx="3.5" fill="#f5c83c"/><rect x="552.0" y="401" width="1.5" height="26.25" rx="0.8" fill="#f02020"/><rect x="557.2" y="401" width="6.4" height="26.25" rx="3.2" fill="#dcaf28"/><rect x="565.0" y="401" width="1.5" height="26.25" rx="0.8" fill="#e0a080"/><rect x="567.5" y="401" width="1.5" height="26.25" rx="0.8" fill="#e0c080"/><rect x="570.5" y="401" width="1.5" height="26.25" rx="0.8" fill="#e0a080"/><rect x="795.0" y="569" width="1.0" height="26.25" rx="0.5" fill="#e0c0a0"/><rect x="804.0" y="569" width="1.5" height="26.25" rx="0.8" fill="#e06060"/><rect x="813.0" y="569" width="12.5" height="26.25" rx="3.5" fill="#fa1e19"/><rect x="826.0" y="569" width="2.0" height="26.25" rx="1.0" fill="#e09060"/><rect x="829.0" y="569" width="2.0" height="26.25" rx="1.0" fill="#e07040"/><rect x="870.0" y="569" width="1.0" height="26.25" rx="0.5" fill="#e0c0a0"/><rect x="874.0" y="569" width="1.0" height="26.25" rx="0.5" fill="#e0e080"/><rect x="904.0" y="569" width="1.0" height="26.25" rx="0.5" fill="#e0d0a0"/><rect x="954.5" y="569" width="1.0" height="26.25" rx="0.5" fill="#e0b0a0"/><rect x="963.0" y="569" width="1.0" height="26.25" rx="0.5" fill="#e0e080"/><rect x="971.0" y="569" width="1.0" height="26.25" rx="0.5" fill="#e0b0a0"/><rect x="974.0" y="569" width="2.0" height="26.25" rx="1.0" fill="#e04040"/><rect x="977.0" y="569" width="1.0" height="26.25" rx="0.5" fill="#e0b080"/><rect x="1016.0" y="569" width="1.0" height="26.25" rx="0.5" fill="#e89040"/><rect x="1029.5" y="569" width="1.5" height="26.25" rx="0.8" fill="#d8a020"/><rect x="1034.8" y="569" width="3.9" height="26.25" rx="2.0" fill="#ebd71e"/><rect x="1046.4" y="569" width="2.0" height="26.25" rx="1.0" fill="#e01030"/><rect x="1058.0" y="569" width="2.0" height="26.25" rx="1.0" fill="#e89060"/><rect x="795.0" y="541" width="1.0" height="26.25" rx="0.5" fill="#e0c0a0"/><rect x="804.0" y="541" width="1.5" height="26.25" rx="0.8" fill="#e06060"/><rect x="813.3" y="541" width="11.3" height="26.25" rx="3.5" fill="#e18c2d"/><rect x="825.0" y="541" width="2.0" height="26.25" rx="1.0" fill="#e0c040"/><rect x="828.0" y="541" width="2.0" height="26.25" rx="1.0" fill="#e08060"/><rect x="875.0" y="541" width="1.0" height="26.25" rx="0.5" fill="#e0e0a0"/><rect x="904.0" y="541" width="1.0" height="26.25" rx="0.5" fill="#e0d0a0"/><rect x="974.0" y="541" width="2.0" height="26.25" rx="1.0" fill="#e0b0a0"/><rect x="1016.0" y="541" width="1.0" height="26.25" rx="0.5" fill="#e0c040"/><rect x="1029.0" y="541" width="1.5" height="26.25" rx="0.8" fill="#e0a080"/><rect x="1034.8" y="541" width="3.2" height="26.25" rx="1.6" fill="#e60a0a"/><rect x="1050.0" y="541" width="1.0" height="26.25" rx="0.5" fill="#e0d060"/><rect x="1057.0" y="541" width="1.0" height="26.25" rx="0.5" fill="#e0c0a0"/><rect x="804.0" y="513" width="1.5" height="26.25" rx="0.8" fill="#e06060"/><rect x="813.3" y="513" width="10.3" height="26.25" rx="3.5" fill="#d25028"/><rect x="824.0" y="513" width="3.0" height="26.25" rx="1.5" fill="#e0a080"/><rect x="875.0" y="513" width="1.0" height="26.25" rx="0.5" fill="#e0c0a0"/><rect x="954.0" y="513" width="1.0" height="26.25" rx="0.5" fill="#e0c0a0"/><rect x="975.0" y="513" width="1.0" height="26.25" rx="0.5" fill="#e0b0a0"/><rect x="1016.0" y="513" width="1.0" height="26.25" rx="0.5" fill="#e04040"/><rect x="1034.8" y="513" width="3.2" height="26.25" rx="1.6" fill="#e1a514"/><rect x="1050.0" y="513" width="1.0" height="26.25" rx="0.5" fill="#e0d060"/><rect x="804.0" y="485" width="1.5" height="26.25" rx="0.8" fill="#e07060"/><rect x="813.3" y="485" width="9.7" height="26.25" rx="3.5" fill="#dc1428"/><rect x="824.0" y="485" width="2.0" height="26.25" rx="1.0" fill="#e0c060"/><rect x="826.5" y="485" width="1.5" height="26.25" rx="0.8" fill="#e0e040"/><rect x="955.0" y="485" width="1.0" height="26.25" rx="0.5" fill="#e0c0a0"/><rect x="975.0" y="485" width="1.0" height="26.25" rx="0.5" fill="#e0b0a0"/><rect x="1016.0" y="485" width="1.0" height="26.25" rx="0.5" fill="#e08040"/><rect x="1036.0" y="485" width="2.0" height="26.25" rx="1.0" fill="#e09040"/><rect x="1050.0" y="485" width="1.0" height="26.25" rx="0.5" fill="#e0c0a0"/><rect x="804.0" y="457" width="1.5" height="26.25" rx="0.8" fill="#e08060"/><rect x="813.3" y="457" width="9.3" height="26.25" rx="3.5" fill="#e6780a"/><rect x="823.0" y="457" width="2.0" height="26.25" rx="1.0" fill="#e0c060"/><rect x="975.0" y="457" width="1.0" height="26.25" rx="0.5" fill="#e0b0a0"/><rect x="1016.0" y="457" width="1.0" height="26.25" rx="0.5" fill="#e08040"/><rect x="804.0" y="429" width="1.5" height="26.25" rx="0.8" fill="#e09060"/><rect x="813.3" y="429" width="8.9" height="26.25" rx="3.5" fill="#d71e28"/><rect x="822.5" y="429" width="1.5" height="26.25" rx="0.8" fill="#e08060"/><rect x="975.0" y="429" width="1.0" height="26.25" rx="0.5" fill="#e0d0a0"/><rect x="1016.0" y="429" width="1.0" height="26.25" rx="0.5" fill="#e0c040"/><rect x="806.0" y="401" width="1.0" height="26.25" rx="0.5" fill="#e0a080"/><rect x="813.3" y="401" width="8.4" height="26.25" rx="3.5" fill="#dc1e1e"/><rect x="822.0" y="401" width="1.5" height="26.25" rx="0.8" fill="#e08060"/><rect x="874.0" y="401" width="1.0" height="26.25" rx="0.5" fill="#e0e0a0"/><rect x="1016.0" y="401" width="1.0" height="26.25" rx="0.5" fill="#e06060"/><rect x="1059.0" y="569" width="1.5" height="26.25" rx="0.8" fill="#e09060"/><rect x="1065.5" y="569" width="1.5" height="26.25" rx="0.8" fill="#d8a040"/><rect x="1076.4" y="569" width="188.4" height="26.25" rx="3.5" fill="#eb232d"/><rect x="1066.0" y="541" width="1.5" height="26.25" rx="0.8" fill="#e01030"/><rect x="1081.1" y="541" width="67.8" height="26.25" rx="3.5" fill="#dc0a00"/><rect x="1150.0" y="541" width="2.5" height="26.25" rx="1.2" fill="#e0a080"/><rect x="1153.9" y="541" width="11.1" height="26.25" rx="3.5" fill="#f0821e"/><rect x="1167.9" y="541" width="59.7" height="26.25" rx="3.5" fill="#fa690a"/><rect x="1228.9" y="541" width="35.9" height="26.25" rx="3.5" fill="#f0a037"/><rect x="1050.5" y="513" width="1.0" height="26.25" rx="0.5" fill="#e0b080"/><rect x="1067.0" y="513" width="1.0" height="26.25" rx="0.5" fill="#e04040"/><rect x="1081.7" y="513" width="67.2" height="26.25" rx="3.5" fill="#d28c0f"/><rect x="1150.0" y="513" width="2.0" height="26.25" rx="1.0" fill="#e0a080"/><rect x="1154.3" y="513" width="10.7" height="26.25" rx="3.5" fill="#e10f0a"/><rect x="1167.5" y="513" width="2.0" height="26.25" rx="1.0" fill="#e0a080"/><rect x="1171.8" y="513" width="48.0" height="26.25" rx="3.5" fill="#e11e14"/><rect x="1220.5" y="513" width="3.0" height="26.25" rx="1.5" fill="#d8a020"/><rect x="1227.0" y="513" width="2.0" height="26.25" rx="1.0" fill="#e08080"/><rect x="1233.4" y="513" width="15.5" height="26.25" rx="3.5" fill="#e17d1e"/><rect x="1249.7" y="513" width="12.7" height="26.25" rx="3.5" fill="#dcaf32"/><rect x="1050.5" y="485" width="1.0" height="26.25" rx="0.5" fill="#e0b080"/><rect x="1082.6" y="485" width="66.3" height="26.25" rx="3.5" fill="#d71432"/><rect x="1150.5" y="485" width="1.5" height="26.25" rx="0.8" fill="#e03030"/><rect x="1154.3" y="485" width="10.1" height="26.25" rx="3.5" fill="#e18237"/><rect x="1171.4" y="485" width="45.3" height="26.25" rx="3.5" fill="#dc961e"/><rect x="1221.0" y="485" width="3.0" height="26.25" rx="1.5" fill="#e01030"/><rect x="1230.5" y="485" width="1.5" height="26.25" rx="0.8" fill="#e08060"/><rect x="1234.0" y="485" width="2.5" height="26.25" rx="1.2" fill="#e07040"/><rect x="1238.0" y="485" width="5.8" height="26.25" rx="2.9" fill="#e60a32"/><rect x="1245.0" y="485" width="4.0" height="26.25" rx="2.0" fill="#e15a28"/><rect x="1253.5" y="485" width="3.9" height="26.25" rx="2.0" fill="#dc6432"/><rect x="1258.6" y="485" width="2.7" height="26.25" rx="1.4" fill="#ebd70a"/><rect x="1081.0" y="457" width="1.0" height="26.25" rx="0.5" fill="#e0b080"/><rect x="1083.0" y="457" width="65.9" height="26.25" rx="3.5" fill="#d2e10a"/><rect x="1150.5" y="457" width="2.0" height="26.25" rx="1.0" fill="#e05050"/><rect x="1156.0" y="457" width="2.0" height="26.25" rx="1.0" fill="#f06020"/><rect x="1159.2" y="457" width="4.8" height="26.25" rx="2.4" fill="#e61e0f"/><rect x="1176.6" y="457" width="10.3" height="26.25" rx="3.5" fill="#fa641e"/><rect x="1188.2" y="457" width="20.8" height="26.25" rx="3.5" fill="#dc1919"/><rect x="1210.0" y="457" width="2.0" height="26.25" rx="1.0" fill="#e03030"/><rect x="1213.0" y="457" width="2.0" height="26.25" rx="1.0" fill="#e08060"/><rect x="1231.0" y="457" width="2.0" height="26.25" rx="1.0" fill="#e0d040"/><rect x="1235.0" y="457" width="3.5" height="26.25" rx="1.8" fill="#f0a030"/><rect x="1240.0" y="457" width="2.0" height="26.25" rx="1.0" fill="#d8c040"/><rect x="1253.5" y="457" width="3.9" height="26.25" rx="2.0" fill="#e63c37"/><rect x="1081.5" y="429" width="1.0" height="26.25" rx="0.5" fill="#e0b080"/><rect x="1085.0" y="429" width="63.9" height="26.25" rx="3.5" fill="#eb7819"/><rect x="1151.0" y="429" width="1.0" height="26.25" rx="0.5" fill="#e0a080"/><rect x="1158.0" y="429" width="1.0" height="26.25" rx="0.5" fill="#e0e0a0"/><rect x="1179.1" y="429" width="8.2" height="26.25" rx="3.5" fill="#d7aa0f"/><rect x="1188.8" y="429" width="6.2" height="26.25" rx="3.1" fill="#dc9b37"/><rect x="1197.0" y="429" width="12.0" height="26.25" rx="3.5" fill="#d27305"/><rect x="1211.0" y="429" width="2.0" height="26.25" rx="1.0" fill="#e0a060"/><rect x="1231.0" y="429" width="1.5" height="26.25" rx="0.8" fill="#e06060"/><rect x="1235.0" y="429" width="1.5" height="26.25" rx="0.8" fill="#e0c040"/><rect x="1238.5" y="429" width="2.0" height="26.25" rx="1.0" fill="#e04040"/><rect x="1242.5" y="429" width="1.5" height="26.25" rx="0.8" fill="#e0c040"/><rect x="1253.1" y="429" width="4.3" height="26.25" rx="2.2" fill="#eb1914"/><rect x="1258.0" y="429" width="2.0" height="26.25" rx="1.0" fill="#e08060"/><rect x="1081.5" y="401" width="1.0" height="26.25" rx="0.5" fill="#e0b0a0"/><rect x="1090.0" y="401" width="27.9" height="26.25" rx="3.5" fill="#d72323"/><rect x="1119.0" y="401" width="10.1" height="26.25" rx="3.5" fill="#f08c37"/><rect x="1130.5" y="401" width="2.0" height="26.25" rx="1.0" fill="#e01020"/><rect x="1135.0" y="401" width="13.5" height="26.25" rx="3.5" fill="#cda028"/><rect x="1176.5" y="401" width="1.5" height="26.25" rx="0.8" fill="#e02020"/><rect x="1189.2" y="401" width="5.8" height="26.25" rx="2.9" fill="#d2691e"/><rect x="1197.0" y="401" width="5.8" height="26.25" rx="2.9" fill="#ebc832"/><rect x="1203.7" y="401" width="5.3" height="26.25" rx="2.6" fill="#d2be32"/><rect x="1231.0" y="401" width="1.5" height="26.25" rx="0.8" fill="#e03030"/><rect x="1236.0" y="401" width="2.0" height="26.25" rx="1.0" fill="#e03030"/><rect x="1241.0" y="401" width="2.0" height="26.25" rx="1.0" fill="#e01030"/><rect x="1253.1" y="401" width="4.3" height="26.25" rx="2.2" fill="#f0a51e"/><rect x="1259.0" y="401" width="2.0" height="26.25" rx="1.0" fill="#e08040"/><rect x="1310.5" y="569" width="1.0" height="26.25" rx="0.5" fill="#e0c0a0"/><rect x="1330.5" y="569" width="1.5" height="26.25" rx="0.8" fill="#e09060"/><rect x="1352.7" y="569" width="67.8" height="26.25" rx="3.5" fill="#d78228"/><rect x="1422.5" y="569" width="22.5" height="26.25" rx="3.5" fill="#d29b37"/><rect x="1446.0" y="569" width="2.0" height="26.25" rx="1.0" fill="#e0d040"/><rect x="1449.2" y="569" width="10.7" height="26.25" rx="3.5" fill="#e1d20a"/><rect x="1461.8" y="569" width="21.9" height="26.25" rx="3.5" fill="#f0d228"/><rect x="1484.5" y="569" width="1.5" height="26.25" rx="0.8" fill="#e0a060"/><rect x="1509.0" y="569" width="1.5" height="26.25" rx="0.8" fill="#e0b0a0"/><rect x="1522.0" y="569" width="1.0" height="26.25" rx="0.5" fill="#e0d0a0"/><rect x="1533.5" y="569" width="2.5" height="26.25" rx="1.2" fill="#e03030"/><rect x="1536.5" y="569" width="1.8" height="26.25" rx="0.9" fill="#e0d040"/><rect x="1549.0" y="569" width="2.0" height="26.25" rx="1.0" fill="#e03030"/><rect x="1310.5" y="541" width="1.0" height="26.25" rx="0.5" fill="#e0c0a0"/><rect x="1330.5" y="541" width="1.5" height="26.25" rx="0.8" fill="#e0a060"/><rect x="1354.0" y="541" width="1.5" height="26.25" rx="0.8" fill="#e0c040"/><rect x="1356.5" y="541" width="2.0" height="26.25" rx="1.0" fill="#e0a040"/><rect x="1358.5" y="541" width="1.0" height="26.25" rx="0.5" fill="#e01030"/><rect x="1360.0" y="541" width="58.6" height="26.25" rx="3.5" fill="#d25a0a"/><rect x="1423.0" y="541" width="14.2" height="26.25" rx="3.5" fill="#e18c2d"/><rect x="1438.0" y="541" width="7.0" height="26.25" rx="3.5" fill="#d7280a"/><rect x="1446.0" y="541" width="2.0" height="26.25" rx="1.0" fill="#e09060"/><rect x="1449.6" y="541" width="10.3" height="26.25" rx="3.5" fill="#dc5f0f"/><rect x="1464.5" y="541" width="1.5" height="26.25" rx="0.8" fill="#e0c080"/><rect x="1467.6" y="541" width="13.0" height="26.25" rx="3.5" fill="#faa014"/><rect x="1481.0" y="541" width="2.0" height="26.25" rx="1.0" fill="#d01030"/><rect x="1533.5" y="541" width="2.0" height="26.25" rx="1.0" fill="#e06030"/><rect x="1536.5" y="541" width="1.8" height="26.25" rx="0.9" fill="#e0b040"/><rect x="1310.5" y="513" width="1.0" height="26.25" rx="0.5" fill="#e0d080"/><rect x="1330.5" y="513" width="1.5" height="26.25" rx="0.8" fill="#e0d080"/><rect x="1366.3" y="513" width="2.5" height="26.25" rx="1.2" fill="#e87030"/><rect x="1369.4" y="513" width="6.6" height="26.25" rx="3.3" fill="#e6af28"/><rect x="1377.0" y="513" width="31.5" height="26.25" rx="3.5" fill="#ebbe23"/><rect x="1409.5" y="513" width="6.4" height="26.25" rx="3.2" fill="#e63c1e"/><rect x="1416.0" y="513" width="2.0" height="26.25" rx="1.0" fill="#e8e020"/><rect x="1423.6" y="513" width="13.6" height="26.25" rx="3.5" fill="#f5aa1e"/><rect x="1439.5" y="513" width="5.5" height="26.25" rx="2.8" fill="#d7c814"/><rect x="1446.5" y="513" width="2.0" height="26.25" rx="1.0" fill="#e0b080"/><rect x="1449.6" y="513" width="9.7" height="26.25" rx="3.5" fill="#f0aa37"/><rect x="1471.0" y="513" width="1.5" height="26.25" rx="0.8" fill="#e8d020"/><rect x="1473.5" y="513" width="2.0" height="26.25" rx="1.0" fill="#e08030"/><rect x="1476.3" y="513" width="3.9" height="26.25" rx="2.0" fill="#dc5028"/><rect x="1508.5" y="513" width="1.0" height="26.25" rx="0.5" fill="#e0d0a0"/><rect x="1533.5" y="513" width="2.0" height="26.25" rx="1.0" fill="#e03030"/><rect x="1536.5" y="513" width="1.8" height="26.25" rx="0.9" fill="#e04040"/><rect x="1330.5" y="485" width="1.5" height="26.25" rx="0.8" fill="#e08040"/><rect x="1367.5" y="485" width="1.5" height="26.25" rx="0.8" fill="#e03030"/><rect x="1383.0" y="485" width="2.5" height="26.25" rx="1.2" fill="#e88040"/><rect x="1386.0" y="485" width="1.5" height="26.25" rx="0.8" fill="#d8a040"/><rect x="1388.7" y="485" width="19.4" height="26.25" rx="3.5" fill="#cd780f"/><rect x="1409.5" y="485" width="1.5" height="26.25" rx="0.8" fill="#e07040"/><rect x="1412.0" y="485" width="3.0" height="26.25" rx="1.5" fill="#e0b030"/><rect x="1416.0" y="485" width="2.0" height="26.25" rx="1.0" fill="#e03040"/><rect x="1428.3" y="485" width="6.4" height="26.25" rx="3.2" fill="#d22828"/><rect x="1435.5" y="485" width="2.0" height="26.25" rx="1.0" fill="#d8b030"/><rect x="1441.5" y="485" width="3.0" height="26.25" rx="1.5" fill="#e07040"/><rect x="1447.0" y="485" width="1.5" height="26.25" rx="0.8" fill="#e0a080"/><rect x="1452.7" y="485" width="6.6" height="26.25" rx="3.3" fill="#f05f0f"/><rect x="1510.0" y="485" width="1.0" height="26.25" rx="0.5" fill="#e0b0a0"/><rect x="1533.5" y="485" width="2.0" height="26.25" rx="1.0" fill="#e02020"/><rect x="1536.5" y="485" width="1.8" height="26.25" rx="0.9" fill="#e0a040"/><rect x="1330.5" y="457" width="1.5" height="26.25" rx="0.8" fill="#e06060"/><rect x="1386.0" y="457" width="2.0" height="26.25" rx="1.0" fill="#e89040"/><rect x="1390.7" y="457" width="16.8" height="26.25" rx="3.5" fill="#dc1428"/><rect x="1413.0" y="457" width="2.5" height="26.25" rx="1.2" fill="#e8d030"/><rect x="1431.0" y="457" width="1.5" height="26.25" rx="0.8" fill="#e0d040"/><rect x="1433.0" y="457" width="1.5" height="26.25" rx="0.8" fill="#e09040"/><rect x="1455.0" y="457" width="3.0" height="26.25" rx="1.5" fill="#e10a32"/><rect x="1534.5" y="457" width="1.5" height="26.25" rx="0.8" fill="#e8e030"/><rect x="1537.0" y="457" width="1.5" height="26.25" rx="0.8" fill="#e09040"/><rect x="1330.5" y="429" width="1.5" height="26.25" rx="0.8" fill="#e06060"/><rect x="1387.0" y="429" width="1.5" height="26.25" rx="0.8" fill="#e03030"/><rect x="1394.0" y="429" width="1.5" height="26.25" rx="0.8" fill="#e08040"/><rect x="1396.0" y="429" width="1.5" height="26.25" rx="0.8" fill="#e03030"/><rect x="1398.8" y="429" width="8.7" height="26.25" rx="3.5" fill="#e6be37"/><rect x="1414.0" y="429" width="1.5" height="26.25" rx="0.8" fill="#e0b040"/><rect x="1455.0" y="429" width="3.0" height="26.25" rx="1.5" fill="#e63c14"/><rect x="1534.5" y="429" width="1.5" height="26.25" rx="0.8" fill="#e0a060"/><rect x="1537.0" y="429" width="1.5" height="26.25" rx="0.8" fill="#e0c060"/><rect x="1330.5" y="401" width="1.5" height="26.25" rx="0.8" fill="#e08060"/><rect x="1397.5" y="401" width="1.0" height="26.25" rx="0.5" fill="#e0d040"/><rect x="1400.8" y="401" width="4.7" height="26.25" rx="2.4" fill="#e1dc14"/><rect x="1405.5" y="401" width="1.5" height="26.25" rx="0.8" fill="#e04040"/><rect x="1414.0" y="401" width="1.5" height="26.25" rx="0.8" fill="#e0d060"/><rect x="1509.0" y="401" width="1.0" height="26.25" rx="0.5" fill="#e0c0a0"/><rect x="1537.3" y="401" width="2.0" height="26.25" rx="1.0" fill="#e03030"/><rect x="1543.0" y="401" width="1.0" height="26.25" rx="0.5" fill="#e0d0a0"/><rect x="1550.0" y="401" width="1.0" height="26.25" rx="0.5" fill="#e0c0a0"/><rect x="1614.5" y="569" width="1.5" height="26.25" rx="0.8" fill="#e08040"/><rect x="1638.5" y="569" width="9.1" height="26.25" rx="3.5" fill="#fa3c37"/><rect x="1648.0" y="569" width="2.0" height="26.25" rx="1.0" fill="#e0a030"/><rect x="1651.5" y="569" width="14.1" height="26.25" rx="3.5" fill="#fa370a"/><rect x="1666.2" y="569" width="3.8" height="26.25" rx="1.9" fill="#d75a32"/><rect x="1684.0" y="569" width="1.0" height="26.25" rx="0.5" fill="#e0e040"/><rect x="1689.0" y="569" width="2.0" height="26.25" rx="1.0" fill="#d01020"/><rect x="1700.0" y="569" width="2.5" height="26.25" rx="1.2" fill="#e8b060"/><rect x="1707.0" y="569" width="2.0" height="26.25" rx="1.0" fill="#e02020"/><rect x="1723.0" y="569" width="1.5" height="26.25" rx="0.8" fill="#e0e040"/><rect x="1727.0" y="569" width="2.0" height="26.25" rx="1.0" fill="#e08040"/><rect x="1808.0" y="569" width="1.0" height="26.25" rx="0.5" fill="#e0c0a0"/><rect x="1829.0" y="569" width="1.5" height="26.25" rx="0.8" fill="#e08060"/><rect x="1614.5" y="541" width="1.5" height="26.25" rx="0.8" fill="#e08040"/><rect x="1653.0" y="541" width="8.1" height="26.25" rx="3.5" fill="#fa0f00"/><rect x="1661.7" y="541" width="3.9" height="26.25" rx="1.9" fill="#d7c332"/><rect x="1701.0" y="541" width="1.0" height="26.25" rx="0.5" fill="#e0b0a0"/><rect x="1708.0" y="541" width="1.5" height="26.25" rx="0.8" fill="#e06040"/><rect x="1723.0" y="541" width="1.0" height="26.25" rx="0.5" fill="#e0c0a0"/><rect x="1728.0" y="541" width="1.0" height="26.25" rx="0.5" fill="#e0b080"/><rect x="1808.0" y="541" width="1.0" height="26.25" rx="0.5" fill="#e0b0a0"/><rect x="1829.0" y="541" width="1.5" height="26.25" rx="0.8" fill="#e0a080"/><rect x="1614.5" y="513" width="1.0" height="26.25" rx="0.5" fill="#e0e0a0"/><rect x="1653.0" y="513" width="1.0" height="26.25" rx="0.5" fill="#e0a040"/><rect x="1654.0" y="513" width="7.1" height="26.25" rx="3.5" fill="#d7b90a"/><rect x="1663.5" y="513" width="1.5" height="26.25" rx="0.8" fill="#e0b020"/><rect x="1701.0" y="513" width="1.0" height="26.25" rx="0.5" fill="#e0b0a0"/><rect x="1708.0" y="513" width="1.0" height="26.25" rx="0.5" fill="#e0b080"/><rect x="1833.0" y="513" width="1.0" height="26.25" rx="0.5" fill="#e0c0a0"/><rect x="1655.0" y="485" width="1.5" height="26.25" rx="0.8" fill="#e08060"/><rect x="1657.0" y="485" width="4.1" height="26.25" rx="2.0" fill="#e63c1e"/><rect x="1701.0" y="485" width="1.0" height="26.25" rx="0.5" fill="#e0d0a0"/><rect x="1655.0" y="457" width="1.0" height="26.25" rx="0.5" fill="#e0a080"/><rect x="1657.8" y="457" width="3.3" height="26.25" rx="1.6" fill="#e8703a"/><rect x="1655.0" y="429" width="1.0" height="26.25" rx="0.5" fill="#e0b080"/><rect x="1658.0" y="429" width="2.0" height="26.25" rx="1.0" fill="#d8a040"/><rect x="1829.0" y="569" width="1.5" height="26.25" rx="0.8" fill="#e08060"/><rect x="1839.0" y="569" width="2.0" height="26.25" rx="1.0" fill="#e03050"/><rect x="1842.6" y="569" width="5.8" height="26.25" rx="2.9" fill="#eb5a2d"/><rect x="1856.0" y="569" width="1.0" height="26.25" rx="0.5" fill="#e0c0a0"/><rect x="1865.0" y="569" width="2.0" height="26.25" rx="1.0" fill="#e08040"/><rect x="1879.8" y="569" width="4.8" height="26.25" rx="2.4" fill="#e13c28"/><rect x="1887.0" y="569" width="1.0" height="26.25" rx="0.5" fill="#e0c080"/><rect x="1901.0" y="569" width="1.0" height="26.25" rx="0.5" fill="#e0a080"/><rect x="1905.0" y="569" width="1.5" height="26.25" rx="0.8" fill="#e08060"/><rect x="1908.8" y="569" width="5.8" height="26.25" rx="2.9" fill="#fa641e"/><rect x="1927.0" y="569" width="1.0" height="26.25" rx="0.5" fill="#e0c040"/><rect x="1928.2" y="569" width="5.8" height="26.25" rx="2.9" fill="#dc8214"/><rect x="1934.0" y="569" width="4.9" height="26.25" rx="2.5" fill="#f0cd28"/><rect x="1938.9" y="569" width="2.9" height="26.25" rx="1.4" fill="#e61428"/><rect x="1952.0" y="569" width="1.0" height="26.25" rx="0.5" fill="#e0d0a0"/><rect x="1982.5" y="569" width="1.0" height="26.25" rx="0.5" fill="#e0a080"/><rect x="1986.0" y="569" width="2.0" height="26.25" rx="1.0" fill="#f08020"/><rect x="1989.2" y="569" width="5.8" height="26.25" rx="2.9" fill="#d2d21e"/><rect x="1996.0" y="569" width="1.0" height="26.25" rx="0.5" fill="#e02020"/><rect x="2000.9" y="569" width="4.8" height="26.25" rx="2.4" fill="#dc5a32"/><rect x="2007.0" y="569" width="1.0" height="26.25" rx="0.5" fill="#e0c080"/><rect x="2026.0" y="569" width="4.9" height="26.25" rx="2.5" fill="#f0501e"/><rect x="2032.8" y="569" width="5.8" height="26.25" rx="2.9" fill="#dc781e"/><rect x="2040.0" y="569" width="2.0" height="26.25" rx="1.0" fill="#e0c080"/><rect x="2046.0" y="569" width="1.0" height="26.25" rx="0.5" fill="#e0a080"/><rect x="2056.0" y="569" width="18.5" height="26.25" rx="3.5" fill="#d75514"/><rect x="1829.0" y="541" width="1.5" height="26.25" rx="0.8" fill="#e0a080"/><rect x="1839.0" y="541" width="2.0" height="26.25" rx="1.0" fill="#e0d040"/><rect x="1842.6" y="541" width="5.8" height="26.25" rx="2.9" fill="#f0500f"/><rect x="1856.0" y="541" width="1.0" height="26.25" rx="0.5" fill="#e0c0a0"/><rect x="1866.0" y="541" width="1.0" height="26.25" rx="0.5" fill="#e08060"/><rect x="1879.8" y="541" width="4.8" height="26.25" rx="2.4" fill="#d22828"/><rect x="1901.0" y="541" width="1.0" height="26.25" rx="0.5" fill="#e0a080"/><rect x="1905.0" y="541" width="1.5" height="26.25" rx="0.8" fill="#e0a080"/><rect x="1909.8" y="541" width="4.8" height="26.25" rx="2.4" fill="#e6d70a"/><rect x="1930.0" y="541" width="4.0" height="26.25" rx="2.0" fill="#e68c28"/><rect x="1935.0" y="541" width="3.3" height="26.25" rx="1.6" fill="#f5190f"/><rect x="1938.5" y="541" width="2.5" height="26.25" rx="1.2" fill="#d8e020"/><rect x="1982.5" y="541" width="1.0" height="26.25" rx="0.5" fill="#e0a080"/><rect x="1986.0" y="541" width="1.5" height="26.25" rx="0.8" fill="#e01010"/><rect x="1989.2" y="541" width="6.4" height="26.25" rx="3.2" fill="#d75032"/><rect x="2000.9" y="541" width="4.8" height="26.25" rx="2.4" fill="#dc503c"/><rect x="2027.0" y="541" width="3.9" height="26.25" rx="2.0" fill="#f0c81e"/><rect x="2032.8" y="541" width="5.8" height="26.25" rx="2.9" fill="#f0643c"/><rect x="2039.0" y="541" width="1.5" height="26.25" rx="0.8" fill="#e05070"/><rect x="2046.0" y="541" width="1.0" height="26.25" rx="0.5" fill="#e0b080"/><rect x="2056.0" y="541" width="18.5" height="26.25" rx="3.5" fill="#f0462d"/><rect x="1833.0" y="513" width="1.0" height="26.25" rx="0.5" fill="#e0c0a0"/><rect x="1839.5" y="513" width="1.5" height="26.25" rx="0.8" fill="#e0a060"/><rect x="1842.6" y="513" width="5.8" height="26.25" rx="2.9" fill="#e6af28"/><rect x="1866.0" y="513" width="1.0" height="26.25" rx="0.5" fill="#e0a040"/><rect x="1879.8" y="513" width="4.8" height="26.25" rx="2.4" fill="#eb5537"/><rect x="1901.0" y="513" width="1.0" height="26.25" rx="0.5" fill="#e0a080"/><rect x="1906.0" y="513" width="1.0" height="26.25" rx="0.5" fill="#e0c080"/><rect x="1909.8" y="513" width="4.8" height="26.25" rx="2.4" fill="#d25f1e"/><rect x="1931.0" y="513" width="3.0" height="26.25" rx="1.5" fill="#dc6437"/><rect x="1938.0" y="513" width="1.0" height="26.25" rx="0.5" fill="#e0c0a0"/><rect x="1982.5" y="513" width="1.0" height="26.25" rx="0.5" fill="#e0c0a0"/><rect x="1990.2" y="513" width="5.4" height="26.25" rx="2.7" fill="#f0af28"/><rect x="1995.5" y="513" width="1.0" height="26.25" rx="0.5" fill="#e0b040"/><rect x="2005.0" y="513" width="1.0" height="26.25" rx="0.5" fill="#e08040"/><rect x="2028.0" y="513" width="3.0" height="26.25" rx="1.5" fill="#e87050"/><rect x="2033.8" y="513" width="5.8" height="26.25" rx="2.9" fill="#e66e37"/><rect x="2056.0" y="513" width="18.5" height="26.25" rx="3.5" fill="#e6af37"/><rect x="1833.0" y="485" width="1.0" height="26.25" rx="0.5" fill="#e0c0a0"/><rect x="1839.5" y="485" width="1.5" height="26.25" rx="0.8" fill="#e08060"/><rect x="1842.6" y="485" width="5.8" height="26.25" rx="2.9" fill="#e1641e"/><rect x="1866.0" y="485" width="1.0" height="26.25" rx="0.5" fill="#e0a040"/><rect x="1879.8" y="485" width="4.8" height="26.25" rx="2.4" fill="#dcc337"/><rect x="1901.0" y="485" width="1.0" height="26.25" rx="0.5" fill="#e0a080"/><rect x="1906.0" y="485" width="1.0" height="26.25" rx="0.5" fill="#e0c080"/><rect x="1909.8" y="485" width="4.8" height="26.25" rx="2.4" fill="#cd1e0a"/><rect x="1933.0" y="485" width="1.0" height="26.25" rx="0.5" fill="#e0a060"/><rect x="1938.0" y="485" width="1.0" height="26.25" rx="0.5" fill="#e0c0a0"/><rect x="1982.5" y="485" width="1.0" height="26.25" rx="0.5" fill="#e0c0a0"/><rect x="1992.0" y="485" width="1.0" height="26.25" rx="0.5" fill="#e0d0a0"/><rect x="2002.0" y="485" width="1.0" height="26.25" rx="0.5" fill="#e0b080"/><rect x="2005.0" y="485" width="1.0" height="26.25" rx="0.5" fill="#d8a040"/><rect x="2035.5" y="485" width="2.5" height="26.25" rx="1.2" fill="#e01030"/><rect x="2056.0" y="485" width="18.5" height="26.25" rx="3.5" fill="#f5af37"/><rect x="1843.0" y="457" width="1.5" height="26.25" rx="0.8" fill="#e08060"/><rect x="1844.5" y="457" width="3.3" height="26.25" rx="1.6" fill="#d7d214"/><rect x="1866.0" y="457" width="1.0" height="26.25" rx="0.5" fill="#e0a040"/><rect x="1880.0" y="457" width="3.0" height="26.25" rx="1.5" fill="#e1d250"/><rect x="1906.0" y="457" width="1.5" height="26.25" rx="0.8" fill="#e08080"/><rect x="1909.8" y="457" width="4.8" height="26.25" rx="2.4" fill="#fa0a1e"/><rect x="1991.0" y="457" width="1.0" height="26.25" rx="0.5" fill="#e0c0a0"/><rect x="2005.0" y="457" width="1.0" height="26.25" rx="0.5" fill="#e08040"/><rect x="2034.0" y="457" width="2.0" height="26.25" rx="1.0" fill="#e06040"/><rect x="2036.5" y="457" width="1.5" height="26.25" rx="0.8" fill="#e04040"/><rect x="2056.0" y="457" width="18.5" height="26.25" rx="3.5" fill="#e6730a"/><rect x="1843.9" y="429" width="3.9" height="26.25" rx="1.9" fill="#dcaf1e"/><rect x="1866.0" y="429" width="1.0" height="26.25" rx="0.5" fill="#e0a040"/><rect x="1881.0" y="429" width="1.0" height="26.25" rx="0.5" fill="#e0c040"/><rect x="1909.8" y="429" width="4.8" height="26.25" rx="2.4" fill="#dcaa28"/><rect x="1906.0" y="429" width="1.0" height="26.25" rx="0.5" fill="#e0b080"/><rect x="1991.0" y="429" width="1.0" height="26.25" rx="0.5" fill="#e0c0a0"/><rect x="2005.0" y="429" width="1.0" height="26.25" rx="0.5" fill="#e08040"/><rect x="2036.0" y="429" width="2.0" height="26.25" rx="1.0" fill="#e06030"/><rect x="2056.0" y="429" width="18.5" height="26.25" rx="3.5" fill="#dc321e"/><rect x="1843.9" y="401" width="3.9" height="26.25" rx="1.9" fill="#f05a28"/><rect x="1866.0" y="401" width="1.0" height="26.25" rx="0.5" fill="#e0b060"/><rect x="1881.0" y="401" width="1.0" height="26.25" rx="0.5" fill="#e0c040"/><rect x="1909.8" y="401" width="4.8" height="26.25" rx="2.4" fill="#dc4614"/><rect x="1991.0" y="401" width="1.0" height="26.25" rx="0.5" fill="#e0c0a0"/><rect x="2005.0" y="401" width="1.0" height="26.25" rx="0.5" fill="#e03040"/><rect x="2036.0" y="401" width="2.0" height="26.25" rx="1.0" fill="#e06030"/><rect x="2056.0" y="401" width="18.5" height="26.25" rx="3.5" fill="#e61423"/><rect x="42.0" y="373" width="1.5" height="26.25" rx="0.8" fill="#e0a080"/><rect x="48.5" y="373" width="1.5" height="26.25" rx="0.8" fill="#e08060"/><rect x="50.0" y="373" width="3.3" height="26.25" rx="1.6" fill="#fa7a1e"/><rect x="53.5" y="373" width="1.5" height="26.25" rx="0.8" fill="#e8d040"/><rect x="98.0" y="373" width="1.5" height="26.25" rx="0.8" fill="#e08080"/><rect x="100.0" y="373" width="1.5" height="26.25" rx="0.8" fill="#e06060"/><rect x="203.5" y="373" width="2.9" height="26.25" rx="1.5" fill="#dccd32"/><rect x="49.5" y="345" width="0.5" height="26.25" rx="0.2" fill="#e0c080"/><rect x="50.0" y="345" width="3.0" height="26.25" rx="1.5" fill="#f0321e"/><rect x="99.7" y="345" width="1.3" height="26.25" rx="0.6" fill="#e0a090"/><rect x="204.4" y="345" width="1.4" height="26.25" rx="0.7" fill="#d7aa3c"/><rect x="51.0" y="317" width="2.0" height="26.25" rx="1.0" fill="#dc5a32"/><rect x="204.7" y="317" width="1.0" height="26.25" rx="0.5" fill="#e0a080"/><rect x="51.4" y="289" width="1.6" height="26.25" rx="0.8" fill="#dcaa32"/><rect x="204.5" y="289" width="1.3" height="26.25" rx="0.7" fill="#e07070"/><rect x="51.8" y="261" width="1.0" height="26.25" rx="0.5" fill="#e07070"/><rect x="52.0" y="233" width="0.8" height="26.25" rx="0.4" fill="#e0c0a0"/><rect x="421.2" y="373" width="7.4" height="26.25" rx="3.5" fill="#e11437"/><rect x="463.0" y="373" width="1.0" height="26.25" rx="0.5" fill="#e0c0a0"/><rect x="472.5" y="373" width="1.0" height="26.25" rx="0.5" fill="#e0d0a0"/><rect x="493.0" y="373" width="1.5" height="26.25" rx="0.8" fill="#e04020"/><rect x="501.8" y="373" width="4.7" height="26.25" rx="2.3" fill="#f5410a"/><rect x="509.0" y="373" width="2.0" height="26.25" rx="1.0" fill="#e8b060"/><rect x="421.8" y="345" width="6.8" height="26.25" rx="3.4" fill="#e18c32"/><rect x="493.0" y="345" width="1.5" height="26.25" rx="0.8" fill="#e0a0a0"/><rect x="503.2" y="345" width="3.3" height="26.25" rx="1.7" fill="#f0aa28"/><rect x="510.0" y="345" width="1.5" height="26.25" rx="0.8" fill="#e07070"/><rect x="421.8" y="317" width="6.8" height="26.25" rx="3.4" fill="#d70023"/><rect x="503.5" y="317" width="2.5" height="26.25" rx="1.2" fill="#f08c3c"/><rect x="421.8" y="289" width="6.8" height="26.25" rx="3.4" fill="#d7640f"/><rect x="421.0" y="261" width="1.0" height="26.25" rx="0.5" fill="#e0a080"/><rect x="422.4" y="261" width="5.2" height="26.25" rx="2.6" fill="#d78700"/><rect x="427.8" y="261" width="1.2" height="26.25" rx="0.6" fill="#e07070"/><rect x="422.8" y="233" width="4.2" height="26.25" rx="2.1" fill="#e60a2d"/><rect x="422.5" y="205" width="2.5" height="26.25" rx="1.2" fill="#f0821e"/><rect x="425.0" y="205" width="2.0" height="26.25" rx="1.0" fill="#e04040"/><rect x="530.5" y="373" width="20.8" height="26.25" rx="3.5" fill="#cd5019"/><rect x="551.8" y="373" width="2.0" height="26.25" rx="1.0" fill="#e0a080"/><rect x="530.5" y="345" width="20.0" height="26.25" rx="3.5" fill="#eb1e2d"/><rect x="551.0" y="345" width="2.0" height="26.25" rx="1.0" fill="#e0a080"/><rect x="530.5" y="317" width="18.8" height="26.25" rx="3.5" fill="#dc320f"/><rect x="549.8" y="317" width="2.0" height="26.25" rx="1.0" fill="#e0a080"/><rect x="530.5" y="289" width="17.6" height="26.25" rx="3.5" fill="#d29137"/><rect x="548.6" y="289" width="2.0" height="26.25" rx="1.0" fill="#e0a080"/><rect x="530.5" y="261" width="16.9" height="26.25" rx="3.5" fill="#f0d719"/><rect x="547.9" y="261" width="2.0" height="26.25" rx="1.0" fill="#e0a080"/><rect x="530.5" y="233" width="16.1" height="26.25" rx="3.5" fill="#dc9137"/><rect x="547.1" y="233" width="2.0" height="26.25" rx="1.0" fill="#e0a080"/><rect x="530.5" y="205" width="16.1" height="26.25" rx="3.5" fill="#cd6932"/><rect x="547.1" y="205" width="2.0" height="26.25" rx="1.0" fill="#e0a080"/><rect x="530.5" y="177" width="14.9" height="26.25" rx="3.5" fill="#d7281e"/><rect x="545.9" y="177" width="2.0" height="26.25" rx="1.0" fill="#e0a080"/><rect x="530.5" y="149" width="14.5" height="26.25" rx="3.5" fill="#f50f14"/><rect x="545.5" y="149" width="2.0" height="26.25" rx="1.0" fill="#e0a080"/><rect x="530.5" y="121" width="13.7" height="26.25" rx="3.5" fill="#ebb91e"/><rect x="544.7" y="121" width="2.0" height="26.25" rx="1.0" fill="#e0a080"/><rect x="530.5" y="93" width="13.5" height="26.25" rx="3.5" fill="#faa50f"/><rect x="544.5" y="93" width="2.0" height="26.25" rx="1.0" fill="#e0a080"/><rect x="530.5" y="65" width="12.9" height="26.25" rx="3.5" fill="#f05f0a"/><rect x="543.9" y="65" width="2.0" height="26.25" rx="1.0" fill="#e0a080"/><rect x="530.5" y="37" width="12.2" height="26.25" rx="3.5" fill="#f0d71e"/><rect x="543.2" y="37" width="2.0" height="26.25" rx="1.0" fill="#e0a080"/><rect x="530.5" y="9" width="12.2" height="26.25" rx="3.5" fill="#ebb932"/><rect x="543.2" y="9" width="2.0" height="26.25" rx="1.0" fill="#e0a080"/><rect x="530.5" y="-19" width="11.0" height="26.25" rx="3.5" fill="#f05032"/><rect x="542.0" y="-19" width="2.0" height="26.25" rx="1.0" fill="#e0a080"/><rect x="558.0" y="373" width="4.0" height="26.25" rx="2.0" fill="#dce128"/><rect x="563.0" y="373" width="1.5" height="26.25" rx="0.8" fill="#e0c0a0"/><rect x="557.0" y="345" width="6.0" height="26.25" rx="3.0" fill="#f54128"/><rect x="564.0" y="345" width="1.0" height="26.25" rx="0.5" fill="#e0c0a0"/><rect x="561.0" y="317" width="2.0" height="26.25" rx="1.0" fill="#e02020"/><rect x="561.0" y="261" width="1.0" height="26.25" rx="0.5" fill="#e0e0a0"/><rect x="813.0" y="373" width="8.7" height="26.25" rx="3.5" fill="#f05a1e"/><rect x="813.0" y="345" width="8.5" height="26.25" rx="3.5" fill="#f58719"/><rect x="813.0" y="317" width="8.0" height="26.25" rx="3.5" fill="#e1d71e"/><rect x="813.0" y="289" width="8.0" height="26.25" rx="3.5" fill="#e64123"/><rect x="813.0" y="261" width="7.0" height="26.25" rx="3.5" fill="#d7a019"/><rect x="813.0" y="233" width="7.0" height="26.25" rx="3.5" fill="#dcd20a"/><rect x="813.0" y="205" width="7.0" height="26.25" rx="3.5" fill="#d26937"/><rect x="813.0" y="177" width="6.5" height="26.25" rx="3.2" fill="#d72323"/><rect x="813.0" y="149" width="6.5" height="26.25" rx="3.2" fill="#ebb437"/><rect x="813.0" y="121" width="6.0" height="26.25" rx="3.0" fill="#d7dc1e"/><rect x="813.0" y="93" width="6.0" height="26.25" rx="3.0" fill="#cd1428"/><rect x="813.0" y="65" width="6.0" height="26.25" rx="3.0" fill="#dc0a3c"/><rect x="813.0" y="37" width="5.5" height="26.25" rx="2.8" fill="#dc822d"/><rect x="813.0" y="9" width="5.5" height="26.25" rx="2.8" fill="#e6962d"/><rect x="813.0" y="-19" width="5.5" height="26.25" rx="2.8" fill="#d7961e"/><rect x="807.5" y="373" width="1.0" height="26.25" rx="0.5" fill="#e0c0a0"/><rect x="822.0" y="373" width="1.0" height="26.25" rx="0.5" fill="#e0c0a0"/><rect x="807.5" y="345" width="1.0" height="26.25" rx="0.5" fill="#e0d0a0"/><rect x="822.0" y="345" width="1.0" height="26.25" rx="0.5" fill="#e0b0a0"/><rect x="807.5" y="317" width="1.0" height="26.25" rx="0.5" fill="#e0c0a0"/><rect x="423.5" y="177" width="2.0" height="26.25" rx="1.0" fill="#f0321e"/><rect x="425.5" y="177" width="1.9" height="26.25" rx="0.9" fill="#e8c030"/><rect x="423.5" y="149" width="3.5" height="26.25" rx="1.8" fill="#e8c8a0"/><rect x="424.5" y="121" width="1.0" height="26.25" rx="0.5" fill="#e8b090"/><rect x="1016.0" y="373" width="1.0" height="26.25" rx="0.5" fill="#e07070"/><rect x="1121.7" y="373" width="8.3" height="26.25" rx="3.5" fill="#dcaf1e"/><rect x="1176.5" y="373" width="1.0" height="26.25" rx="0.5" fill="#e03030"/><rect x="1190.4" y="373" width="2.1" height="26.25" rx="1.0" fill="#dc3c1e"/><rect x="1193.0" y="373" width="1.3" height="26.25" rx="0.6" fill="#e08060"/><rect x="1197.2" y="373" width="5.8" height="26.25" rx="2.9" fill="#dcbe0a"/><rect x="1204.0" y="373" width="5.4" height="26.25" rx="2.7" fill="#f5c32d"/><rect x="1211.0" y="373" width="1.0" height="26.25" rx="0.5" fill="#e0b0a0"/><rect x="1224.5" y="373" width="1.0" height="26.25" rx="0.5" fill="#e0b080"/><rect x="1231.5" y="373" width="1.0" height="26.25" rx="0.5" fill="#e0b080"/><rect x="1237.0" y="373" width="2.0" height="26.25" rx="1.0" fill="#e08050"/><rect x="1239.9" y="373" width="4.4" height="26.25" rx="2.2" fill="#d2b41e"/><rect x="1247.5" y="373" width="1.0" height="26.25" rx="0.5" fill="#e07070"/><rect x="1255.0" y="373" width="1.0" height="26.25" rx="0.5" fill="#e8d020"/><rect x="1256.5" y="373" width="1.5" height="26.25" rx="0.8" fill="#e07040"/><rect x="1330.5" y="373" width="1.0" height="26.25" rx="0.5" fill="#e0b0a0"/><rect x="1121.5" y="345" width="1.0" height="26.25" rx="0.5" fill="#e0c080"/><rect x="1123.0" y="345" width="5.8" height="26.25" rx="2.9" fill="#f0a028"/><rect x="1177.0" y="345" width="1.0" height="26.25" rx="0.5" fill="#e0d060"/><rect x="1191.5" y="345" width="1.5" height="26.25" rx="0.8" fill="#e06020"/><rect x="1200.0" y="345" width="2.5" height="26.25" rx="1.2" fill="#f0a030"/><rect x="1205.0" y="345" width="3.9" height="26.25" rx="2.0" fill="#d22814"/><rect x="1240.4" y="345" width="3.3" height="26.25" rx="1.6" fill="#e6143a"/><rect x="1248.0" y="345" width="1.0" height="26.25" rx="0.5" fill="#e0c080"/><rect x="1260.0" y="345" width="1.5" height="26.25" rx="0.8" fill="#e87040"/><rect x="1331.0" y="345" width="1.0" height="26.25" rx="0.5" fill="#e0e0a0"/><rect x="1125.0" y="317" width="4.4" height="26.25" rx="2.2" fill="#eb4614"/><rect x="1191.5" y="317" width="1.5" height="26.25" rx="0.8" fill="#e02020"/><rect x="1200.0" y="317" width="1.5" height="26.25" rx="0.8" fill="#e07070"/><rect x="1205.5" y="317" width="3.0" height="26.25" rx="1.5" fill="#dc7828"/><rect x="1240.0" y="317" width="1.5" height="26.25" rx="0.8" fill="#e0a080"/><rect x="1242.0" y="317" width="1.5" height="26.25" rx="0.8" fill="#e07040"/><rect x="1248.0" y="317" width="1.0" height="26.25" rx="0.5" fill="#e0c080"/><rect x="1256.5" y="317" width="1.0" height="26.25" rx="0.5" fill="#e0c0a0"/><rect x="1260.0" y="317" width="1.5" height="26.25" rx="0.8" fill="#e0a090"/><rect x="1125.5" y="289" width="2.0" height="26.25" rx="1.0" fill="#e81020"/><rect x="1191.5" y="289" width="1.0" height="26.25" rx="0.5" fill="#e07030"/><rect x="1200.0" y="289" width="1.0" height="26.25" rx="0.5" fill="#e0a060"/><rect x="1206.0" y="289" width="1.5" height="26.25" rx="0.8" fill="#e07070"/><rect x="1256.5" y="289" width="1.0" height="26.25" rx="0.5" fill="#e0d0b0"/><rect x="1191.5" y="261" width="1.0" height="26.25" rx="0.5" fill="#e0d060"/><rect x="1200.0" y="261" width="1.0" height="26.25" rx="0.5" fill="#e09060"/><rect x="1206.0" y="261" width="1.5" height="26.25" rx="0.8" fill="#e07070"/><rect x="1256.5" y="261" width="1.0" height="26.25" rx="0.5" fill="#e0d0b0"/><rect x="1201.0" y="233" width="1.0" height="26.25" rx="0.5" fill="#e0d080"/><rect x="1206.0" y="233" width="1.5" height="26.25" rx="0.8" fill="#e08040"/><rect x="1256.5" y="233" width="1.0" height="26.25" rx="0.5" fill="#e0d0b0"/><rect x="1206.5" y="205" width="1.0" height="26.25" rx="0.5" fill="#e0e0b0"/><rect x="1397.3" y="373" width="1.2" height="26.25" rx="0.6" fill="#e8b080"/><rect x="1404.2" y="373" width="2.3" height="26.25" rx="1.1" fill="#d2140a"/><rect x="1508.5" y="373" width="1.0" height="26.25" rx="0.5" fill="#e8d0b0"/><rect x="1537.3" y="373" width="1.9" height="26.25" rx="1.0" fill="#e65a5a"/><rect x="1543.0" y="373" width="1.0" height="26.25" rx="0.5" fill="#e0d0b0"/><rect x="1397.3" y="345" width="1.2" height="26.25" rx="0.6" fill="#e8c0a0"/><rect x="1405.0" y="345" width="1.5" height="26.25" rx="0.8" fill="#dcd214"/><rect x="1537.5" y="345" width="1.5" height="26.25" rx="0.8" fill="#f0b83c"/><rect x="1542.5" y="345" width="1.0" height="26.25" rx="0.5" fill="#e8c0b0"/><rect x="1537.5" y="317" width="1.5" height="26.25" rx="0.8" fill="#e09040"/><rect x="1542.5" y="317" width="1.0" height="26.25" rx="0.5" fill="#e8c0b0"/><rect x="1537.7" y="289" width="1.2" height="26.25" rx="0.6" fill="#e86060"/><rect x="1537.7" y="261" width="1.2" height="26.25" rx="0.6" fill="#e89050"/><rect x="1537.7" y="233" width="1.2" height="26.25" rx="0.6" fill="#e09060"/><rect x="1537.7" y="205" width="1.2" height="26.25" rx="0.6" fill="#f0b040"/><rect x="1537.7" y="177" width="1.2" height="26.25" rx="0.6" fill="#e8a050"/><rect x="1537.7" y="149" width="1.2" height="26.25" rx="0.6" fill="#e8c060"/><rect x="1537.7" y="121" width="1.2" height="26.25" rx="0.6" fill="#e09060"/><rect x="1537.7" y="93" width="1.2" height="26.25" rx="0.6" fill="#e8b070"/><rect x="1537.7" y="65" width="1.2" height="26.25" rx="0.6" fill="#e8c080"/><rect x="1537.7" y="37" width="1.2" height="26.25" rx="0.6" fill="#e0a070"/><rect x="1537.7" y="9" width="1.2" height="26.25" rx="0.6" fill="#e8c090"/><rect x="1537.7" y="-19" width="1.2" height="26.25" rx="0.6" fill="#e0c0a0"/><rect x="1843.0" y="373" width="1.5" height="26.25" rx="0.8" fill="#e8d040"/><rect x="1844.5" y="373" width="3.2" height="26.25" rx="1.6" fill="#fa3c14"/><rect x="1866.0" y="373" width="1.2" height="26.25" rx="0.6" fill="#e8b090"/><rect x="1881.5" y="373" width="1.2" height="26.25" rx="0.6" fill="#e8c090"/><rect x="1843.0" y="345" width="1.5" height="26.25" rx="0.8" fill="#e8d040"/><rect x="1844.7" y="345" width="3.0" height="26.25" rx="1.5" fill="#f05a32"/><rect x="1866.0" y="345" width="1.2" height="26.25" rx="0.6" fill="#e8a080"/><rect x="1881.5" y="345" width="1.2" height="26.25" rx="0.6" fill="#e8d080"/><rect x="1843.0" y="317" width="1.5" height="26.25" rx="0.8" fill="#e08060"/><rect x="1844.7" y="317" width="3.0" height="26.25" rx="1.5" fill="#e89060"/><rect x="1866.0" y="317" width="1.0" height="26.25" rx="0.5" fill="#e8c0a0"/><rect x="1881.5" y="317" width="1.0" height="26.25" rx="0.5" fill="#e8d0b0"/><rect x="1843.0" y="289" width="1.5" height="26.25" rx="0.8" fill="#e08060"/><rect x="1845.0" y="289" width="2.0" height="26.25" rx="1.0" fill="#e8c080"/><rect x="1881.5" y="289" width="1.0" height="26.25" rx="0.5" fill="#e8d0b0"/><rect x="1843.5" y="261" width="1.2" height="26.25" rx="0.6" fill="#e0a080"/><rect x="1843.5" y="233" width="1.0" height="26.25" rx="0.5" fill="#e0c0a0"/><rect x="2058.5" y="373" width="15.0" height="26.25" rx="3.5" fill="#d77d14"/><rect x="2058.5" y="345" width="15.0" height="26.25" rx="3.5" fill="#fa4132"/><rect x="2058.5" y="317" width="15.0" height="26.25" rx="3.5" fill="#d26414"/><rect x="2058.5" y="289" width="15.0" height="26.25" rx="3.5" fill="#f58c1e"/><rect x="2058.5" y="261" width="15.0" height="26.25" rx="3.5" fill="#f59119"/><rect x="2058.5" y="233" width="15.0" height="26.25" rx="3.5" fill="#eba023"/><rect x="2058.5" y="205" width="15.0" height="26.25" rx="3.5" fill="#d7410f"/><rect x="2058.5" y="177" width="15.0" height="26.25" rx="3.5" fill="#d78719"/><rect x="2058.5" y="149" width="15.0" height="26.25" rx="3.5" fill="#d7dc00"/><rect x="2058.5" y="121" width="15.0" height="26.25" rx="3.5" fill="#e10f19"/><rect x="2058.5" y="93" width="15.0" height="26.25" rx="3.5" fill="#cd4128"/><rect x="2058.5" y="65" width="15.0" height="26.25" rx="3.5" fill="#e17337"/><rect x="2058.5" y="37" width="15.0" height="26.25" rx="3.5" fill="#fa6e14"/><rect x="2058.5" y="9" width="15.0" height="26.25" rx="3.5" fill="#cd5f28"/><rect x="2058.5" y="-19" width="15.0" height="26.25" rx="3.5" fill="#dc6e14"/><rect x="2004.7" y="373" width="1.2" height="26.25" rx="0.6" fill="#e08040"/><rect x="2004.7" y="345" width="1.2" height="26.25" rx="0.6" fill="#e8a040"/><rect x="2004.7" y="317" width="1.2" height="26.25" rx="0.6" fill="#e04040"/><rect x="2004.7" y="289" width="1.2" height="26.25" rx="0.6" fill="#e0d040"/><rect x="2004.7" y="261" width="1.2" height="26.25" rx="0.6" fill="#e05050"/><rect x="2004.7" y="233" width="1.2" height="26.25" rx="0.6" fill="#e8d040"/><rect x="2004.7" y="205" width="1.2" height="26.25" rx="0.6" fill="#e0b040"/><rect x="2004.7" y="177" width="1.2" height="26.25" rx="0.6" fill="#e08040"/><rect x="2004.7" y="149" width="1.2" height="26.25" rx="0.6" fill="#e8e040"/><rect x="2004.7" y="121" width="1.2" height="26.25" rx="0.6" fill="#e06040"/><rect x="2004.7" y="93" width="1.2" height="26.25" rx="0.6" fill="#e8c040"/><rect x="2004.7" y="65" width="1.2" height="26.25" rx="0.6" fill="#e03040"/><rect x="2004.7" y="37" width="1.2" height="26.25" rx="0.6" fill="#e08040"/><rect x="2004.7" y="9" width="1.2" height="26.25" rx="0.6" fill="#e8c040"/><rect x="2004.7" y="-19" width="1.2" height="26.25" rx="0.6" fill="#e08040"/><rect x="1911.0" y="373" width="2.0" height="26.25" rx="1.0" fill="#d8a040"/><rect x="1991.0" y="373" width="1.0" height="26.25" rx="0.5" fill="#e8d0a0"/><rect x="2036.5" y="373" width="1.0" height="26.25" rx="0.5" fill="#e8a080"/><rect x="1911.0" y="345" width="2.0" height="26.25" rx="1.0" fill="#e02020"/><rect x="1991.0" y="345" width="1.0" height="26.25" rx="0.5" fill="#e8d0b0"/><rect x="2036.5" y="345" width="1.0" height="26.25" rx="0.5" fill="#e8c0a0"/><rect x="1911.0" y="317" width="2.0" height="26.25" rx="1.0" fill="#e05050"/><rect x="2036.5" y="317" width="1.0" height="26.25" rx="0.5" fill="#e8c0b0"/><rect x="1911.5" y="289" width="1.0" height="26.25" rx="0.5" fill="#e8d080"/><rect x="1911.5" y="261" width="1.0" height="26.25" rx="0.5" fill="#e8e0b0"/><rect x="1298.2" y="765.5" width="194.7" height="25.25" rx="3.5" fill="none" stroke="#2a2a2a" stroke-width="1.3"/><g font-family="Liberation Sans, sans-serif" font-size="21.5" fill="#000"><text x="16.6" y="980.2" textLength="24.1" lengthAdjust="spacingAndGlyphs">all</text><text x="16.6" y="952.2" textLength="38.3" lengthAdjust="spacingAndGlyphs">aux</text><text x="118.2" y="952.2" textLength="139.9" lengthAdjust="spacingAndGlyphs">dirty_io_sche</text><text x="526.6" y="952.2" textLength="101.3" lengthAdjust="spacingAndGlyphs">scheduler</text><text x="16.6" y="924.2" textLength="63.8" lengthAdjust="spacingAndGlyphs">[unk..</text><text x="118.8" y="924.2" textLength="114.6" lengthAdjust="spacingAndGlyphs">[unknown]</text><text x="440.6" y="924.2" textLength="65.1" lengthAdjust="spacingAndGlyphs">writev</text><text x="526.6" y="924.2" textLength="523.3" lengthAdjust="spacingAndGlyphs">$erts_beamasm:normal_exit/0-CodeInfoPrologue</text><text x="1764.2" y="924.2" textLength="169.0" lengthAdjust="spacingAndGlyphs">$global::proce..</text><text x="1953.8" y="924.2" textLength="114.6" lengthAdjust="spacingAndGlyphs">[unknown]</text><text x="16.6" y="896.2" textLength="75.6" lengthAdjust="spacingAndGlyphs">thr_w..</text><text x="146.8" y="896.2" textLength="69.4" lengthAdjust="spacingAndGlyphs">syscall</text><text x="272.2" y="896.2" textLength="129.6" lengthAdjust="spacingAndGlyphs">thr_wrapper</text><text x="442.1" y="896.2" textLength="58.3" lengthAdjust="spacingAndGlyphs">entr..</text><text x="528.0" y="896.2" textLength="295.6" lengthAdjust="spacingAndGlyphs">$proc_lib:init_p_do_apply/3</text><text x="1767.8" y="896.2" textLength="145.7" lengthAdjust="spacingAndGlyphs">erts_schedule</text><text x="16.6" y="868.2" textLength="74.5" lengthAdjust="spacingAndGlyphs">aux_t..</text><text x="151.2" y="868.2" textLength="97.8" lengthAdjust="spacingAndGlyphs">entry_S..</text><text x="271.9" y="868.2" textLength="149.8" lengthAdjust="spacingAndGlyphs">sched_dirty_..</text><text x="443.9" y="868.2" textLength="64.7" lengthAdjust="spacingAndGlyphs">do_s..</text><text x="530.0" y="868.2" textLength="208.4" lengthAdjust="spacingAndGlyphs">$gen_batch_serve..</text><text x="776.5" y="868.2" textLength="304.6" lengthAdjust="spacingAndGlyphs">$gen_server2:handle_msg/2</text><text x="1594.8" y="868.2" textLength="150.2" lengthAdjust="spacingAndGlyphs">$rabbit_read..</text><text x="1781.2" y="868.2" textLength="36.8" lengthAdjust="spacingAndGlyphs">er..</text><text x="1877.7" y="868.2" textLength="26.2" lengthAdjust="spacingAndGlyphs">s..</text><text x="21.2" y="840.2" textLength="56.0" lengthAdjust="spacingAndGlyphs">erts..</text><text x="154.4" y="840.2" textLength="111.6" lengthAdjust="spacingAndGlyphs">do_sysca..</text><text x="271.9" y="840.2" textLength="151.8" lengthAdjust="spacingAndGlyphs">erts_dirty_pr..</text><text x="444.6" y="840.2" textLength="53.0" lengthAdjust="spacingAndGlyphs">__x..</text><text x="532.0" y="840.2" textLength="195.8" lengthAdjust="spacingAndGlyphs">$gen_batch_serv..</text><text x="781.2" y="840.2" textLength="327.9" lengthAdjust="spacingAndGlyphs">$rabbit_channel:handle_cast/2</text><text x="1594.8" y="840.2" textLength="150.2" lengthAdjust="spacingAndGlyphs">$rabbit_read..</text><text x="1781.2" y="840.2" textLength="41.0" lengthAdjust="spacingAndGlyphs">ga..</text><text x="28.9" y="812.2" textLength="41.5" lengthAdjust="spacingAndGlyphs">pp..</text><text x="155.8" y="812.2" textLength="79.7" lengthAdjust="spacingAndGlyphs">__x64..</text><text x="295.9" y="812.2" textLength="129.4" lengthAdjust="spacingAndGlyphs">erts_sched..</text><text x="444.6" y="812.2" textLength="70.9" lengthAdjust="spacingAndGlyphs">do_w..</text><text x="532.5" y="812.2" textLength="193.5" lengthAdjust="spacingAndGlyphs">$osiris_writer:ha..</text><text x="847.6" y="812.2" textLength="365.4" lengthAdjust="spacingAndGlyphs">$rabbit_channel:handle_method/3</text><text x="1594.8" y="812.2" textLength="152.2" lengthAdjust="spacingAndGlyphs">$rabbit_exch..</text><text x="1782.2" y="812.2" textLength="28.4" lengthAdjust="spacingAndGlyphs">d..</text><text x="30.4" y="784.2" textLength="27.8" lengthAdjust="spacingAndGlyphs">e..</text><text x="157.3" y="784.2" textLength="92.4" lengthAdjust="spacingAndGlyphs">do_futex</text><text x="31.9" y="756.2" textLength="28.4" lengthAdjust="spacingAndGlyphs">d..</text><text x="157.8" y="756.2" textLength="69.2" lengthAdjust="spacingAndGlyphs">futex..</text><text x="162.2" y="728.2" textLength="56.8" lengthAdjust="spacingAndGlyphs">fute..</text><text x="164.8" y="700.2" textLength="76.1" lengthAdjust="spacingAndGlyphs">sched..</text><text x="166.1" y="672.2" textLength="62.4" lengthAdjust="spacingAndGlyphs">__sc..</text><text x="190.2" y="644.2" textLength="22.7" lengthAdjust="spacingAndGlyphs">f..</text><text x="366.9" y="784.2" textLength="38.7" lengthAdjust="spacingAndGlyphs">sy..</text><text x="448.9" y="784.2" textLength="46.1" lengthAdjust="spacingAndGlyphs">vfs..</text><text x="368.9" y="756.2" textLength="41.1" lengthAdjust="spacingAndGlyphs">en..</text><text x="449.8" y="756.2" textLength="59.5" lengthAdjust="spacingAndGlyphs">do_i..</text><text x="369.9" y="728.2" textLength="28.4" lengthAdjust="spacingAndGlyphs">d..</text><text x="450.2" y="728.2" textLength="53.7" lengthAdjust="spacingAndGlyphs">do_..</text><text x="370.2" y="700.2" textLength="27.9" lengthAdjust="spacingAndGlyphs">_..</text><text x="451.2" y="700.2" textLength="48.5" lengthAdjust="spacingAndGlyphs">ext..</text><text x="370.9" y="672.2" textLength="28.4" lengthAdjust="spacingAndGlyphs">d..</text><text x="451.2" y="672.2" textLength="48.5" lengthAdjust="spacingAndGlyphs">ext..</text><text x="372.8" y="644.2" textLength="36.0" lengthAdjust="spacingAndGlyphs">fu..</text><text x="456.1" y="644.2" textLength="40.9" lengthAdjust="spacingAndGlyphs">ge..</text><text x="535.0" y="784.2" textLength="51.1" lengthAdjust="spacingAndGlyphs">$lis..</text><text x="597.4" y="784.2" textLength="58.1" lengthAdjust="spacingAndGlyphs">$osi..</text><text x="663.8" y="784.2" textLength="58.1" lengthAdjust="spacingAndGlyphs">$osi..</text><text x="535.0" y="756.2" textLength="40.2" lengthAdjust="spacingAndGlyphs">$li..</text><text x="597.4" y="756.2" textLength="58.1" lengthAdjust="spacingAndGlyphs">$osi..</text><text x="535.0" y="728.2" textLength="40.2" lengthAdjust="spacingAndGlyphs">$li..</text><text x="598.0" y="728.2" textLength="28.6" lengthAdjust="spacingAndGlyphs">$..</text><text x="535.0" y="700.2" textLength="34.4" lengthAdjust="spacingAndGlyphs">$l..</text><text x="535.0" y="672.2" textLength="34.4" lengthAdjust="spacingAndGlyphs">$l..</text><text x="535.0" y="644.2" textLength="34.4" lengthAdjust="spacingAndGlyphs">$l..</text><text x="535.2" y="616.2" textLength="28.6" lengthAdjust="spacingAndGlyphs">$..</text><text x="946.5" y="784.2" textLength="311.6" lengthAdjust="spacingAndGlyphs">$rabbit_channel:deliver_to_..</text><text x="1027.5" y="756.2" textLength="226.7" lengthAdjust="spacingAndGlyphs">$rabbit_queue_type..</text><text x="1029.0" y="728.2" textLength="226.7" lengthAdjust="spacingAndGlyphs">$rabbit_queue_type..</text><text x="1030.3" y="700.2" textLength="28.6" lengthAdjust="spacingAndGlyphs">$..</text><text x="1076.2" y="672.2" textLength="180.4" lengthAdjust="spacingAndGlyphs">$rabbit_queue_..</text><text x="1075.2" y="700.2" textLength="167.8" lengthAdjust="spacingAndGlyphs">$maps:fold_1/3</text><text x="1079.2" y="644.2" textLength="132.2" lengthAdjust="spacingAndGlyphs">$lists:foldl/3</text><text x="1079.2" y="616.2" textLength="156.4" lengthAdjust="spacingAndGlyphs">$rabbit_strea..</text><text x="1303.0" y="784.2" textLength="178.1" lengthAdjust="spacingAndGlyphs">$rabbit_exchan..</text><text x="1342.0" y="756.2" textLength="128.0" lengthAdjust="spacingAndGlyphs">$rabbit_ex..</text><text x="1352.8" y="728.2" textLength="124.8" lengthAdjust="spacingAndGlyphs">$rabbit_ro..</text><text x="1353.3" y="700.2" textLength="134.3" lengthAdjust="spacingAndGlyphs">$global::ca..</text><text x="1354.7" y="672.2" textLength="131.3" lengthAdjust="spacingAndGlyphs">ets_select_2</text><text x="1356.5" y="644.2" textLength="115.0" lengthAdjust="spacingAndGlyphs">db_select..</text><text x="1356.5" y="616.2" textLength="115.0" lengthAdjust="spacingAndGlyphs">db_select..</text><text x="1600.8" y="784.2" textLength="137.2" lengthAdjust="spacingAndGlyphs">$rabbit_rea..</text><text x="1633.5" y="756.2" textLength="90.4" lengthAdjust="spacingAndGlyphs">$rabbit..</text><text x="382.4" y="588.2" textLength="23.6" lengthAdjust="spacingAndGlyphs">t..</text><text x="535.2" y="588.2" textLength="28.6" lengthAdjust="spacingAndGlyphs">$..</text><text x="535.2" y="560.2" textLength="28.6" lengthAdjust="spacingAndGlyphs">$..</text><text x="1081.7" y="588.2" textLength="156.4" lengthAdjust="spacingAndGlyphs">$rabbit_strea..</text><text x="1086.3" y="560.2" textLength="41.7" lengthAdjust="spacingAndGlyphs">$g..</text><text x="1173.2" y="560.2" textLength="37.6" lengthAdjust="spacingAndGlyphs">$r..</text><text x="1087.0" y="532.2" textLength="47.5" lengthAdjust="spacingAndGlyphs">$gl..</text><text x="1087.8" y="504.2" textLength="38.7" lengthAdjust="spacingAndGlyphs">se..</text><text x="1088.2" y="476.2" textLength="41.1" lengthAdjust="spacingAndGlyphs">do..</text><text x="1090.2" y="448.2" textLength="45.0" lengthAdjust="spacingAndGlyphs">ert..</text><text x="1358.0" y="588.2" textLength="53.8" lengthAdjust="spacingAndGlyphs">ana..</text><text x="1365.2" y="560.2" textLength="28.4" lengthAdjust="spacingAndGlyphs">d..</text></g>
<text x="12" y="1017" textLength="649.8" lengthAdjust="spacingAndGlyphs" font-family="Liberation Sans, sans-serif" font-size="21.5">Function: $rabbit_exchange:route/2 (7,321 samples, 9.50%)</text>
<rect x="1478" y="795" width="274" height="18.5" fill="#b0a0a8" opacity="0.35"/>
<rect x="1477" y="794" width="274" height="18.5" fill="#e8d8dd"/>
<text x="1483.5" y="807.3" textLength="259" lengthAdjust="spacingAndGlyphs" font-family="Liberation Sans, sans-serif" font-size="11" fill="#3c3c3c">$rabbit_exchange:route/2 (7,321 samples, 9.50%)</text>
</svg>
</body></html>
